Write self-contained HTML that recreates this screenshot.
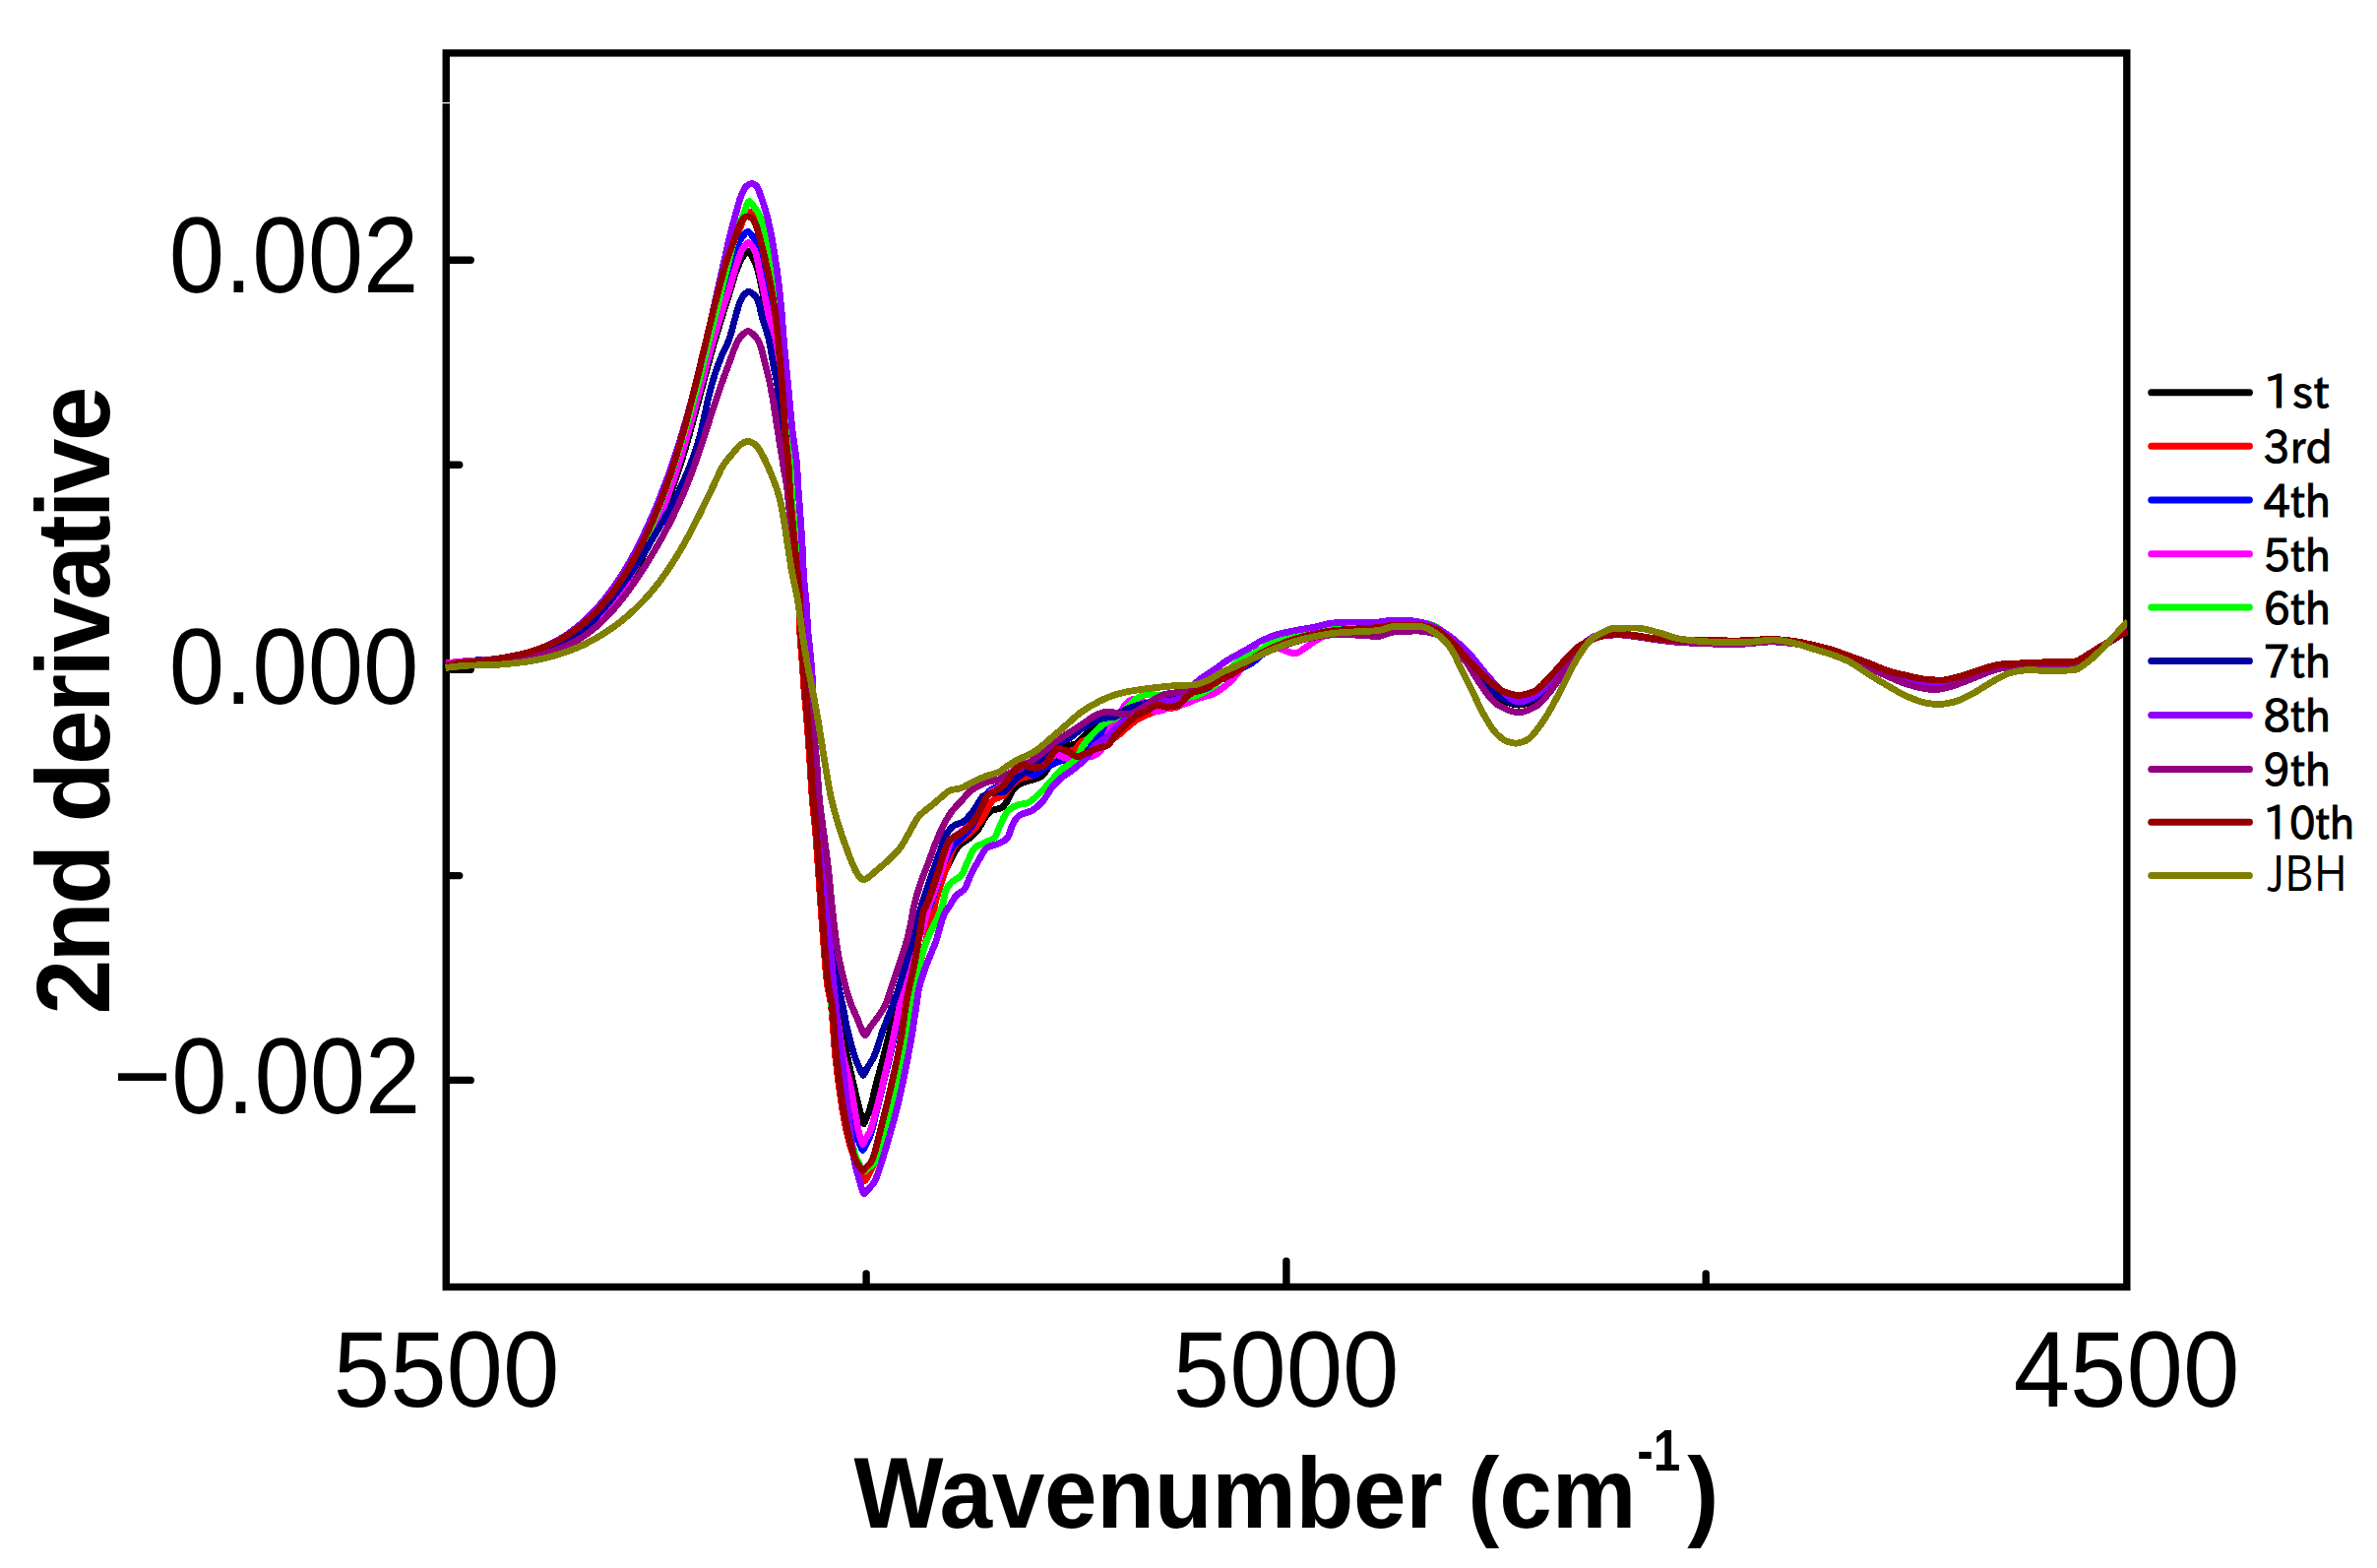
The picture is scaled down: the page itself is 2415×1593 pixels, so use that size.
<!DOCTYPE html>
<html lang="en"><head><meta charset="utf-8"><title>2nd derivative spectra</title>
<style>
html,body{margin:0;padding:0;background:#fff}
body{width:2415px;height:1593px;overflow:hidden}
svg{display:block}
.tick{font-family:"Liberation Sans",Arial,sans-serif;font-size:102.5px;fill:#000}
.ax{font-family:"Liberation Sans",Arial,sans-serif;font-weight:bold;font-size:102.5px;fill:#000}
.lg{font-family:"IPAPGothic","IPAGothic","Liberation Sans",sans-serif;font-size:46.6px;fill:#000}
</style></head><body>
<svg width="2415" height="1593" viewBox="0 0 2415 1593">
<rect width="2415" height="1593" fill="#fff"/>
<defs><clipPath id="cp"><rect x="452.2" y="57.6" width="1709.0" height="1246.4"/></clipPath></defs>
<g fill="none" stroke="#000" stroke-width="7.4" stroke-linecap="round">
<rect x="453.25" y="53.90" width="1707.55" height="1253.60" stroke-linejoin="miter"/>
<path d="M456.2 264.3 H478.2"/>
<path d="M456.2 472.2 H466.7"/>
<path d="M456.2 680.2 H478.2"/>
<path d="M456.2 889.6 H466.7"/>
<path d="M456.2 1097.4 H478.2"/>
<path d="M880.1 1304.5 V1294.0"/>
<path d="M1306.9 1304.5 V1281.1"/>
<path d="M1733.2 1304.5 V1294.0"/>
</g>
<g clip-path="url(#cp)" shape-rendering="crispEdges" fill="none" stroke-width="6.8" stroke-linejoin="round" stroke-linecap="butt">
<path stroke="#000000" d="M452.9 677.5C461.7 675.3 470.5 673.4 479.4 672.7C488.6 672.0 498.1 672.1 507.3 671.4C516.6 670.7 525.8 668.8 534.9 666.9C540.5 665.7 546.1 663.9 551.6 662.1C557.2 660.2 562.7 658.0 568.0 655.6C573.7 653.0 579.3 649.9 584.6 646.5C590.2 642.9 595.6 638.8 600.7 634.5C606.4 629.6 611.9 624.2 616.9 618.6C621.9 613.0 626.7 607.0 631.1 600.9C637.0 592.8 642.4 584.3 647.5 575.6C651.9 568.0 656.0 560.2 659.9 552.3C663.6 544.8 667.1 537.1 670.4 529.4C673.7 521.8 676.7 514.0 679.6 506.2C682.6 498.2 685.3 490.2 688.0 482.1C690.5 474.7 692.8 467.2 695.1 459.7C697.3 452.3 699.4 444.8 701.5 437.3C705.7 422.1 709.7 406.9 713.8 391.7C717.9 376.4 721.9 361.0 726.3 345.8C729.4 335.1 732.8 324.4 736.1 313.7C738.1 307.3 740.2 300.8 742.2 294.4C744.2 288.0 745.7 281.4 748.0 275.2C749.8 270.4 751.8 265.2 754.5 261.0C755.9 258.9 758.1 255.1 759.8 255.1C761.4 255.1 763.3 258.9 764.5 261.0C766.9 265.3 768.6 270.4 770.0 275.2C771.8 281.4 772.9 288.0 774.2 294.4C775.5 300.8 776.7 307.1 778.0 313.5C780.2 324.3 782.8 335.0 784.5 345.9C786.9 361.1 788.8 376.5 790.5 391.8C792.2 407.1 793.6 422.5 795.0 437.8C796.2 451.6 796.8 465.5 798.5 479.1C799.4 486.3 802.1 493.4 803.1 500.6C804.5 510.7 805.2 521.0 806.2 531.2C807.2 541.4 808.3 551.6 809.4 561.8C810.2 569.5 811.2 577.3 812.0 585.0C812.9 593.5 814.2 602.0 814.5 610.6C814.9 620.8 814.8 631.0 815.2 641.2C815.6 651.4 816.8 661.6 817.5 671.8C818.2 681.0 818.7 690.2 819.4 699.4C820.2 709.9 821.4 720.3 822.2 730.8C823.3 744.4 824.3 758.0 825.2 771.6C826.1 785.2 826.7 798.8 827.8 812.4C828.7 823.3 830.2 834.1 831.1 845.0C832.1 856.9 832.9 868.9 833.7 880.8C834.7 894.4 835.5 908.0 836.5 921.6C837.5 935.2 838.5 948.8 839.6 962.4C840.6 974.7 841.2 987.2 842.9 999.2C843.9 1006.3 847.2 1013.0 849.0 1020.0C851.3 1028.9 853.0 1037.9 855.0 1046.8C857.0 1055.7 858.9 1064.7 860.9 1073.6C862.9 1082.5 864.9 1091.5 866.9 1100.4C868.9 1109.3 871.0 1118.2 873.2 1127.1C874.0 1130.4 874.8 1133.8 875.8 1137.0C876.3 1138.7 877.0 1141.9 877.6 1141.9C878.2 1141.9 878.9 1138.6 879.6 1137.0C881.0 1133.7 882.6 1130.5 883.7 1127.1C886.5 1118.4 888.1 1109.3 890.4 1100.4C892.7 1091.4 895.4 1082.6 897.7 1073.6C900.0 1064.7 902.2 1055.7 904.4 1046.8C906.6 1037.9 908.6 1028.9 910.7 1020.0C914.5 1003.4 917.5 986.4 922.0 970.0C924.8 959.9 927.6 949.2 932.0 940.0C935.4 932.9 942.4 927.1 946.0 920.0C949.7 912.5 951.7 903.8 955.0 896.0C958.0 888.9 961.6 882.1 965.0 875.2C966.3 872.7 967.5 870.1 968.9 867.6C970.6 864.6 972.3 861.3 974.6 858.9C977.2 856.2 981.2 854.7 984.2 852.2C987.6 849.4 991.1 846.2 993.7 842.7C996.3 839.2 997.8 834.8 1000.4 831.2C1002.3 828.5 1004.5 824.9 1007.1 823.6C1009.9 822.2 1014.9 822.1 1017.6 820.7C1020.3 819.3 1022.4 815.1 1024.3 812.1C1026.2 809.1 1027.1 805.2 1029.1 802.5C1030.8 800.3 1033.3 798.1 1035.8 796.8C1038.9 795.1 1042.8 794.1 1046.3 793.0C1047.5 792.6 1048.8 792.3 1050.0 791.9C1052.6 791.0 1055.6 790.3 1057.7 789.0C1060.8 787.1 1062.9 782.8 1065.3 779.5C1068.4 775.2 1070.5 769.9 1073.9 766.1C1076.5 763.2 1080.0 760.0 1083.5 758.4C1086.4 757.1 1090.2 756.9 1093.0 755.6C1096.6 753.9 1099.4 749.7 1102.6 746.9C1104.8 745.0 1107.0 743.1 1109.3 741.2C1112.5 738.6 1115.4 735.2 1118.9 733.6C1121.8 732.3 1125.3 731.8 1128.4 730.7C1132.7 729.1 1136.7 726.8 1140.9 725.0C1145.6 723.0 1150.4 721.0 1155.2 719.2C1159.9 717.5 1164.7 715.8 1169.5 714.4C1174.3 713.0 1179.1 711.7 1183.9 710.6C1188.6 709.5 1193.5 708.8 1198.2 707.7C1203.0 706.6 1207.8 705.3 1212.6 703.9C1218.5 702.2 1225.5 701.1 1230.0 698.2C1231.7 697.1 1232.6 694.2 1234.3 692.8C1238.1 689.6 1244.0 688.2 1248.7 685.6C1253.6 682.8 1258.3 679.7 1263.0 676.5C1267.9 673.2 1272.4 669.0 1277.4 666.0C1283.4 662.4 1290.0 659.2 1296.5 656.4C1302.7 653.8 1309.1 651.4 1315.6 649.4C1321.9 647.5 1328.3 645.7 1334.8 644.4C1341.1 643.1 1347.5 641.8 1353.9 641.1C1360.2 640.4 1366.6 640.0 1373.0 639.6C1379.4 639.2 1385.8 639.1 1392.1 638.6C1400.1 638.0 1408.0 635.5 1416.0 635.5C1425.0 635.5 1434.2 635.5 1443.0 635.5C1448.3 635.5 1454.0 637.6 1458.6 639.5C1464.3 641.9 1469.3 647.8 1473.9 652.5C1481.0 659.7 1486.5 668.7 1493.0 676.6C1499.2 684.1 1505.3 691.8 1512.2 698.6C1517.0 703.3 1521.8 709.2 1527.5 711.8C1532.0 713.8 1537.7 716.2 1542.8 716.2C1547.9 716.2 1553.8 713.9 1558.1 711.8C1564.0 709.0 1568.7 701.8 1573.4 696.4C1578.9 690.2 1583.4 683.0 1588.7 676.6C1593.6 670.6 1598.3 664.0 1604.0 659.1C1608.7 655.0 1614.2 650.5 1620.0 648.5C1625.9 646.5 1632.7 644.3 1639.1 644.3C1645.4 644.3 1651.9 644.7 1658.3 645.2C1664.7 645.7 1671.0 647.4 1677.4 648.1C1684.9 648.9 1692.5 649.8 1700.0 650.0C1711.6 650.3 1723.2 650.3 1734.8 650.5C1744.4 650.7 1753.9 651.0 1763.5 651.0C1775.7 651.0 1787.8 649.5 1800.0 649.5C1806.7 649.5 1813.4 650.3 1820.0 651.0C1826.7 651.7 1833.4 653.4 1840.0 654.8C1846.4 656.2 1852.8 657.8 1859.1 659.6C1865.6 661.5 1871.9 663.9 1878.3 666.3C1885.3 668.9 1892.2 671.6 1899.1 674.5C1905.6 677.2 1911.7 680.8 1918.3 683.0C1924.5 685.1 1931.0 686.6 1937.4 688.2C1943.7 689.7 1950.1 691.8 1956.5 692.4C1961.5 692.9 1966.8 693.4 1971.8 693.4C1978.3 693.4 1984.7 690.9 1991.0 689.2C1998.8 687.1 2006.2 683.3 2013.9 680.9C2020.2 678.9 2026.6 676.2 2033.1 675.6C2039.4 675.0 2045.8 674.9 2052.2 674.5C2058.6 674.1 2064.9 673.2 2071.3 673.0C2077.7 672.8 2084.0 672.8 2090.4 672.6C2096.2 672.4 2102.3 672.4 2107.7 672.0C2111.7 671.7 2115.4 668.4 2119.1 666.3C2124.3 663.4 2129.2 659.8 2134.4 656.7C2138.8 654.1 2143.3 651.5 2147.8 649.0C2152.5 646.4 2157.2 643.9 2162.0 641.5"/>
<path stroke="#ff0000" d="M452.9 676.8C457.2 675.4 461.5 674.0 465.9 673.5C474.5 672.6 483.5 672.7 492.2 671.9C500.8 671.2 509.4 669.7 517.9 668.1C523.7 667.0 529.5 665.5 535.2 663.9C540.7 662.4 546.2 660.5 551.6 658.5C557.1 656.4 562.6 654.0 567.8 651.4C573.5 648.5 579.2 645.2 584.5 641.6C590.2 637.7 595.7 633.3 600.8 628.7C606.6 623.4 612.2 617.6 617.3 611.6C621.2 607.0 624.9 602.2 628.4 597.3C633.2 590.6 637.6 583.5 641.8 576.4C646.1 569.0 650.2 561.3 654.0 553.6C657.7 546.2 661.1 538.6 664.4 531.0C667.6 523.4 670.7 515.8 673.6 508.1C676.6 500.1 679.4 492.0 682.1 483.9C684.5 476.5 686.8 469.0 689.0 461.5C691.4 453.5 693.7 445.5 695.8 437.4C699.8 422.2 703.5 406.9 707.2 391.6C710.9 376.3 714.4 360.9 718.1 345.6C720.2 336.7 722.4 327.9 724.6 319.0C725.9 313.9 727.2 308.9 728.5 303.8C730.2 297.5 731.8 291.2 733.6 285.0C735.4 278.6 737.1 272.2 739.2 265.9C741.4 259.4 744.1 253.0 746.5 246.5C748.9 240.1 750.9 233.7 753.5 227.4C754.7 224.4 755.7 221.0 757.5 218.5C758.4 217.2 760.0 215.0 761.3 215.0C762.5 215.0 764.1 217.2 765.0 218.5C766.7 221.0 767.7 224.4 768.8 227.4C771.0 233.6 772.5 240.1 774.2 246.5C775.9 252.9 777.3 259.3 778.8 265.7C780.3 272.1 781.8 278.4 783.1 284.8C784.3 291.1 785.4 297.5 786.4 303.9C787.2 309.0 788.1 314.1 788.8 319.2C789.9 328.1 790.7 337.0 791.6 345.9C793.1 361.2 794.4 376.5 795.6 391.8C796.8 407.1 797.6 422.5 798.7 437.8C799.7 451.6 802.0 465.3 802.1 479.1C802.2 486.3 802.1 493.4 802.2 500.6C802.3 510.8 803.8 521.0 804.7 531.2C805.6 541.4 806.5 551.6 807.5 561.8C808.2 569.5 809.1 577.3 809.8 585.0C810.6 593.5 811.7 602.1 812.0 610.6C812.4 620.8 812.3 631.0 812.7 641.2C813.1 651.4 814.3 661.6 815.0 671.8C815.7 681.0 816.2 690.2 816.9 699.4C817.7 709.9 818.9 720.3 819.7 730.8C820.8 744.4 821.8 758.0 822.7 771.6C823.6 785.2 824.2 798.8 825.3 812.4C826.2 823.3 827.7 834.1 828.6 845.0C829.6 856.9 830.4 868.9 831.2 880.8C832.2 894.4 833.0 908.0 834.0 921.6C835.0 935.2 836.0 948.8 837.1 962.4C838.1 974.7 838.9 987.0 840.4 999.2C841.3 1006.2 843.4 1013.0 844.3 1020.0C846.5 1037.7 847.0 1055.8 848.8 1073.6C850.6 1091.5 853.0 1109.4 855.9 1127.1C857.4 1136.1 859.1 1145.1 861.2 1153.9C863.4 1162.9 866.0 1172.0 869.3 1180.7C871.0 1185.2 873.2 1189.7 875.5 1194.0C876.5 1195.9 877.7 1199.5 878.8 1199.5C879.9 1199.5 881.0 1195.9 882.0 1194.0C884.0 1190.4 886.0 1186.8 887.5 1183.0C890.5 1175.6 892.8 1167.7 895.0 1160.0C897.6 1150.8 899.9 1141.4 902.0 1132.0C904.4 1121.5 906.2 1110.9 908.5 1100.4C910.4 1091.5 912.7 1082.6 914.5 1073.6C916.3 1064.7 918.0 1055.8 919.5 1046.8C921.0 1037.9 921.8 1028.8 923.5 1020.0C925.8 1008.2 929.9 996.7 933.0 985.0C935.7 975.0 938.3 965.0 941.0 955.0C943.4 945.9 946.6 937.0 948.4 927.8C948.9 925.2 949.2 922.6 949.7 920.0C951.1 912.9 953.4 906.0 955.5 899.1C957.5 892.7 960.0 886.4 962.2 880.0C963.8 875.2 964.9 870.1 966.9 865.6C968.4 862.3 970.3 858.6 972.7 856.1C974.5 854.2 977.3 853.0 979.4 851.3C983.4 848.1 987.5 844.6 990.9 840.8C994.5 836.8 997.7 832.1 1000.4 827.4C1002.2 824.3 1003.3 820.7 1005.2 817.8C1006.5 815.8 1008.1 813.4 1010.0 812.1C1012.6 810.4 1017.0 810.0 1019.5 808.3C1022.2 806.5 1023.8 802.3 1026.2 799.6C1028.6 796.9 1031.0 793.5 1033.9 792.0C1036.6 790.6 1040.3 789.8 1043.5 789.1C1045.0 788.7 1046.8 788.6 1048.2 788.2C1052.5 786.9 1056.1 782.7 1059.6 779.5C1063.0 776.3 1065.4 771.5 1069.1 768.9C1071.8 767.0 1075.3 764.9 1078.7 764.2C1081.1 763.7 1083.8 763.7 1086.3 763.2C1088.3 762.8 1090.5 762.2 1092.1 761.3C1095.1 759.7 1096.7 753.9 1099.7 752.7C1102.3 751.7 1106.1 750.8 1109.3 750.8C1112.5 750.8 1115.7 753.6 1118.9 753.6C1122.0 753.6 1125.5 752.6 1128.4 751.7C1131.1 750.8 1133.7 748.7 1136.1 746.9C1139.4 744.5 1142.4 741.4 1145.6 738.8C1148.8 736.2 1151.8 733.3 1155.2 731.2C1158.2 729.3 1161.5 727.8 1164.8 726.4C1167.3 725.3 1169.8 724.4 1172.4 723.5C1176.2 722.2 1180.0 721.0 1183.9 720.2C1188.0 719.4 1192.7 719.3 1196.3 718.3C1199.9 717.3 1202.6 712.9 1205.9 710.6C1208.6 708.7 1211.5 706.8 1214.5 705.3C1219.4 702.8 1226.5 702.1 1230.0 699.1C1231.8 697.6 1232.5 693.6 1234.3 691.8C1237.7 688.4 1244.0 686.9 1248.7 684.2C1253.5 681.5 1258.4 678.7 1263.0 675.6C1268.0 672.3 1272.4 668.2 1277.4 665.0C1283.5 661.1 1290.0 657.6 1296.5 654.5C1301.2 652.2 1306.0 649.8 1310.9 648.3C1315.5 646.9 1320.4 645.9 1325.2 645.0C1331.5 643.8 1337.9 642.7 1344.3 641.9C1350.7 641.1 1357.1 640.5 1363.5 640.0C1371.5 639.4 1379.5 639.1 1387.4 638.4C1397.0 637.5 1406.4 634.5 1416.0 634.5C1425.0 634.5 1434.2 634.5 1443.0 634.5C1448.3 634.5 1454.0 636.6 1458.6 638.5C1464.3 640.9 1469.2 646.9 1473.9 651.5C1480.8 658.2 1486.5 666.3 1493.0 673.5C1499.2 680.3 1505.4 687.4 1512.2 693.6C1517.0 697.9 1521.8 703.4 1527.5 705.7C1532.1 707.6 1537.7 709.7 1542.8 709.7C1547.9 709.7 1553.7 707.6 1558.1 705.7C1563.9 703.2 1568.6 696.6 1573.4 691.6C1578.8 685.9 1583.4 679.4 1588.7 673.5C1593.6 668.0 1598.3 661.8 1604.0 657.5C1608.7 653.9 1614.4 650.3 1620.0 648.5C1626.0 646.5 1632.7 644.3 1639.1 644.3C1645.4 644.3 1651.9 644.7 1658.3 645.2C1664.7 645.7 1671.0 647.4 1677.4 648.1C1684.9 648.9 1692.5 649.8 1700.0 650.0C1711.6 650.3 1723.2 650.3 1734.8 650.5C1744.4 650.7 1753.9 651.0 1763.5 651.0C1775.7 651.0 1787.8 649.5 1800.0 649.5C1806.7 649.5 1813.4 650.3 1820.0 651.0C1826.7 651.7 1833.4 653.4 1840.0 654.8C1846.4 656.2 1852.8 657.8 1859.1 659.6C1865.6 661.5 1871.9 664.0 1878.3 666.3C1885.3 668.8 1892.2 671.3 1899.1 673.9C1905.5 676.4 1911.8 679.6 1918.3 681.6C1924.5 683.5 1931.0 685.0 1937.4 686.4C1943.7 687.8 1950.1 689.6 1956.5 690.2C1961.6 690.7 1966.7 691.1 1971.8 691.1C1978.3 691.1 1984.7 688.9 1991.0 687.3C1998.8 685.4 2006.2 681.9 2013.9 679.7C2020.2 677.9 2026.6 675.5 2033.1 674.9C2039.4 674.4 2045.8 674.2 2052.2 673.9C2058.6 673.6 2064.9 673.2 2071.3 673.0C2077.7 672.8 2084.0 672.8 2090.4 672.6C2096.2 672.4 2102.3 672.4 2107.7 672.0C2111.7 671.7 2115.4 668.4 2119.1 666.3C2124.3 663.4 2129.2 659.8 2134.4 656.7C2138.8 654.1 2143.3 651.5 2147.8 649.0C2152.5 646.4 2157.2 643.9 2162.0 641.5"/>
<path stroke="#0000ff" d="M452.9 675.5C461.6 673.5 470.3 671.7 479.1 671.1C488.5 670.5 498.0 670.5 507.4 669.9C516.7 669.3 526.1 667.1 535.2 665.1C540.8 663.8 546.4 662.0 551.9 660.1C557.4 658.2 562.9 655.9 568.2 653.4C573.9 650.7 579.5 647.5 584.8 644.0C590.4 640.3 595.9 636.1 600.9 631.7C606.6 626.7 612.1 621.0 617.1 615.2C621.4 610.3 625.4 605.0 629.2 599.6C634.6 591.8 639.6 583.7 644.3 575.4C648.5 567.9 652.5 560.1 656.2 552.3C659.8 544.8 663.1 537.1 666.2 529.4C669.3 521.8 672.2 514.1 675.0 506.3C677.9 498.3 680.5 490.1 683.1 482.0C685.5 474.6 687.7 467.1 689.9 459.6C692.0 452.3 694.1 444.9 696.1 437.6C700.3 422.4 704.0 407.0 708.1 391.8C712.2 376.4 716.3 361.0 720.7 345.7C723.8 334.9 727.0 324.1 730.5 313.4C732.5 307.1 735.2 301.0 737.0 294.7C739.1 287.2 740.5 279.5 742.5 272.0C744.3 265.1 745.8 257.9 748.4 251.3C749.9 247.4 751.9 243.1 754.5 240.0C755.9 238.3 758.1 235.5 759.8 235.5C761.4 235.5 763.4 238.3 764.5 240.0C766.6 243.2 767.8 247.5 769.0 251.3C771.1 258.0 772.4 265.1 774.0 272.0C775.7 279.5 777.4 286.9 779.0 294.4C780.4 300.8 781.8 307.1 783.0 313.5C784.9 324.2 786.6 335.1 788.0 345.9C790.0 361.2 791.5 376.5 793.0 391.8C794.5 407.1 795.7 422.5 797.0 437.8C798.2 451.6 799.1 465.4 800.5 479.1C801.2 486.3 802.4 493.4 803.2 500.6C804.3 510.8 805.0 521.0 805.9 531.2C806.8 541.4 807.9 551.6 808.9 561.8C809.7 569.5 810.6 577.3 811.4 585.0C812.2 593.5 813.4 602.1 813.7 610.6C814.1 620.8 814.0 631.0 814.4 641.2C814.8 651.4 816.0 661.6 816.7 671.8C817.4 681.0 817.9 690.2 818.6 699.4C819.4 709.9 820.6 720.3 821.4 730.8C822.5 744.4 823.5 758.0 824.4 771.6C825.3 785.2 825.9 798.8 827.0 812.4C827.9 823.3 829.4 834.1 830.3 845.0C831.3 856.9 832.1 868.9 832.9 880.8C833.9 894.4 834.7 908.0 835.7 921.6C836.7 935.2 837.7 948.8 838.8 962.4C839.8 974.7 840.7 987.0 842.1 999.2C843.8 1014.5 846.8 1029.7 849.0 1045.0C851.4 1061.7 853.2 1078.4 856.0 1095.0C858.0 1106.7 860.2 1118.5 863.0 1130.0C864.8 1137.4 867.0 1144.8 869.5 1152.0C871.0 1156.2 872.7 1160.4 874.5 1164.5C875.1 1165.9 875.9 1168.7 876.6 1168.7C877.3 1168.7 878.1 1165.9 878.8 1164.5C880.6 1161.0 882.7 1157.5 884.0 1153.9C887.1 1145.3 888.7 1136.1 891.0 1127.1C893.2 1118.2 895.3 1109.3 897.5 1100.4C899.7 1091.5 901.9 1082.6 904.0 1073.6C906.1 1064.7 908.2 1055.8 910.0 1046.8C912.3 1035.3 913.6 1023.5 916.0 1012.0C919.1 997.2 923.8 982.7 927.5 968.0C929.9 958.7 931.4 948.9 934.5 940.0C936.9 933.0 942.2 926.9 945.0 920.0C947.8 913.2 949.7 906.0 952.0 899.0C954.0 892.7 955.7 886.2 958.0 880.0C959.7 875.3 961.6 870.4 964.0 866.0C965.4 863.5 967.1 861.1 968.9 858.9C971.6 855.7 975.1 853.1 978.0 850.0C981.5 846.2 985.2 842.3 988.0 838.0C991.2 833.1 993.5 827.4 996.0 822.0C997.8 818.1 999.0 813.8 1001.0 810.0C1002.2 807.7 1003.5 805.0 1005.2 803.5C1007.4 801.5 1011.2 800.7 1014.0 799.0C1016.8 797.3 1019.5 795.2 1022.0 793.0C1024.8 790.6 1027.0 787.1 1030.0 785.0C1032.9 783.0 1036.9 780.0 1040.0 780.0C1043.6 780.0 1046.6 788.1 1050.0 788.1C1053.1 788.1 1056.3 783.4 1059.6 781.4C1062.6 779.6 1065.9 778.0 1069.1 776.6C1072.2 775.2 1075.4 773.1 1078.7 772.8C1081.8 772.5 1085.2 772.6 1088.3 772.3C1091.6 772.0 1095.1 770.4 1097.8 768.9C1101.5 766.9 1104.4 762.7 1107.4 759.4C1110.1 756.4 1112.4 752.9 1115.0 749.8C1117.5 746.9 1119.8 743.5 1122.7 741.2C1125.2 739.3 1128.5 738.1 1131.3 736.4C1134.6 734.4 1137.7 731.9 1140.9 729.7C1144.1 727.5 1147.1 724.9 1150.4 723.0C1153.5 721.2 1156.7 719.1 1160.0 718.3C1164.5 717.3 1169.5 716.3 1174.3 716.3C1179.1 716.3 1183.9 717.3 1188.7 717.3C1191.9 717.3 1195.1 717.1 1198.2 716.8C1201.5 716.5 1204.8 714.8 1207.8 713.5C1211.2 712.0 1214.1 709.4 1217.4 707.7C1221.5 705.6 1227.2 704.7 1230.0 702.0C1231.8 700.3 1232.5 696.0 1234.3 694.2C1237.6 690.9 1244.0 689.6 1248.7 687.0C1253.6 684.3 1258.2 681.1 1263.0 678.4C1266.2 676.6 1269.6 675.2 1272.6 673.2C1276.0 670.9 1278.8 667.4 1282.2 665.0C1286.7 661.8 1291.5 658.9 1296.5 656.6C1302.6 653.8 1309.2 651.7 1315.6 649.7C1321.9 647.7 1328.3 645.9 1334.8 644.5C1341.1 643.1 1347.5 641.9 1353.9 641.1C1360.2 640.3 1366.6 639.8 1373.0 639.4C1379.4 639.0 1385.8 639.0 1392.1 638.5C1400.1 637.9 1408.0 634.0 1416.0 634.0C1424.9 634.0 1434.2 634.0 1443.0 634.0C1448.3 634.0 1454.1 636.1 1458.6 638.0C1464.4 640.4 1469.1 646.9 1473.9 651.8C1480.7 658.8 1486.4 667.1 1493.0 674.5C1499.2 681.5 1505.4 688.8 1512.2 695.1C1517.0 699.5 1521.8 705.1 1527.5 707.5C1532.1 709.4 1537.7 711.6 1542.8 711.6C1547.9 711.6 1553.7 709.4 1558.1 707.5C1564.0 704.9 1568.6 698.2 1573.4 693.1C1578.9 687.3 1583.4 680.5 1588.7 674.5C1593.6 668.9 1598.3 662.5 1604.0 658.0C1608.7 654.3 1614.3 650.4 1620.0 648.5C1626.0 646.5 1632.7 644.3 1639.1 644.3C1645.4 644.3 1651.9 644.7 1658.3 645.2C1664.7 645.7 1671.0 647.4 1677.4 648.1C1684.9 648.9 1692.5 649.8 1700.0 650.0C1711.6 650.3 1723.2 650.3 1734.8 650.5C1744.4 650.7 1753.9 651.0 1763.5 651.0C1775.7 651.0 1787.8 649.5 1800.0 649.5C1806.7 649.5 1813.4 650.3 1820.0 651.0C1826.7 651.7 1833.4 653.4 1840.0 654.8C1846.4 656.2 1852.8 657.8 1859.1 659.6C1865.6 661.5 1871.9 664.0 1878.3 666.3C1885.3 668.9 1892.2 671.6 1899.1 674.4C1905.5 677.0 1911.7 680.5 1918.3 682.7C1924.5 684.8 1931.0 686.4 1937.4 687.9C1943.7 689.4 1950.1 691.4 1956.5 692.0C1961.5 692.5 1966.8 692.9 1971.8 692.9C1978.3 692.9 1984.7 690.5 1991.0 688.8C1998.8 686.7 2006.2 683.0 2013.9 680.6C2020.2 678.7 2026.6 676.1 2033.1 675.5C2039.4 674.9 2045.8 674.8 2052.2 674.4C2058.6 674.0 2064.9 673.2 2071.3 673.0C2077.7 672.8 2084.0 672.8 2090.4 672.6C2096.2 672.4 2102.3 672.4 2107.7 672.0C2111.7 671.7 2115.4 668.4 2119.1 666.3C2124.3 663.4 2129.2 659.8 2134.4 656.7C2138.8 654.1 2143.3 651.5 2147.8 649.0C2152.5 646.4 2157.2 643.9 2162.0 641.5"/>
<path stroke="#ff00ff" d="M452.9 674.0C461.6 672.7 470.4 671.6 479.2 671.2C488.6 670.8 498.1 670.9 507.4 670.4C516.7 670.0 525.9 667.8 535.0 665.9C540.6 664.7 546.2 662.9 551.7 661.1C557.3 659.2 562.8 656.9 568.1 654.4C573.7 651.7 579.3 648.7 584.5 645.3C590.1 641.7 595.6 637.5 600.7 633.1C606.4 628.2 611.7 622.8 616.7 617.2C621.3 612.1 625.7 606.6 629.7 601.0C635.5 592.9 640.8 584.4 645.8 575.8C650.2 568.2 654.3 560.3 658.2 552.3C661.9 544.7 665.3 537.0 668.6 529.2C671.8 521.5 674.9 513.8 677.8 506.0C680.8 498.0 683.5 490.0 686.2 481.9C688.6 474.5 690.9 467.1 693.2 459.6C695.4 452.2 697.6 444.8 699.7 437.4C704.0 422.3 708.0 407.1 712.1 392.0C716.3 376.6 720.3 361.2 724.7 345.9C727.8 335.0 731.1 324.2 734.5 313.4C736.5 307.1 738.8 300.8 740.8 294.5C742.8 288.1 744.4 281.6 746.4 275.2C748.4 268.8 750.2 262.1 752.9 256.1C753.9 253.8 755.2 251.4 756.8 249.5C757.8 248.4 759.2 246.5 760.3 246.5C761.4 246.5 762.6 248.4 763.5 249.5C765.1 251.4 766.7 253.8 767.5 256.1C769.6 262.0 770.2 268.8 771.6 275.2C773.0 281.6 774.4 288.0 775.7 294.4C777.0 300.8 778.2 307.1 779.5 313.5C781.7 324.3 784.3 335.0 786.0 345.9C788.4 361.1 790.3 376.5 792.0 391.8C793.7 407.1 795.1 422.5 796.5 437.8C797.7 451.6 798.5 465.4 800.0 479.1C800.8 486.3 802.4 493.4 803.2 500.6C804.4 510.8 805.1 521.0 806.1 531.2C807.1 541.4 808.1 551.6 809.2 561.8C810.0 569.5 810.9 577.3 811.7 585.0C812.6 593.5 813.8 602.0 814.1 610.6C814.5 620.8 814.4 631.0 814.8 641.2C815.2 651.4 816.4 661.6 817.1 671.8C817.8 681.0 818.3 690.2 819.0 699.4C819.8 709.9 821.0 720.3 821.8 730.8C822.9 744.4 823.9 758.0 824.8 771.6C825.7 785.2 826.3 798.8 827.4 812.4C828.3 823.3 829.8 834.1 830.7 845.0C831.7 856.9 832.5 868.9 833.3 880.8C834.3 894.4 835.1 908.0 836.1 921.6C837.1 935.2 838.1 948.8 839.2 962.4C840.2 974.7 840.9 987.1 842.5 999.2C843.9 1009.6 848.0 1019.7 850.0 1030.0C852.8 1044.4 854.1 1059.2 857.0 1073.6C858.8 1082.6 861.8 1091.4 863.6 1100.4C865.4 1109.2 866.7 1118.2 868.3 1127.1C869.7 1134.7 870.7 1142.5 872.5 1150.0C873.2 1152.9 874.0 1155.7 875.0 1158.5C875.5 1159.9 876.0 1162.6 876.6 1162.6C877.2 1162.6 877.8 1159.8 878.5 1158.5C880.0 1155.5 882.4 1152.9 883.7 1149.9C886.7 1142.8 888.3 1134.7 890.4 1127.1C892.8 1118.3 894.9 1109.3 897.0 1100.4C899.1 1091.5 901.3 1082.6 903.3 1073.6C905.3 1064.7 907.2 1055.7 909.1 1046.8C911.0 1037.9 912.6 1028.9 914.5 1020.0C916.8 1009.2 918.9 998.4 921.6 987.8C923.8 979.1 926.0 970.3 929.0 962.0C931.1 956.2 934.8 950.8 936.9 945.0C939.8 936.9 941.3 928.2 944.0 920.0C946.0 913.9 948.6 908.0 950.7 902.0C952.7 896.3 954.6 890.6 956.4 884.8C958.4 878.4 960.1 872.0 962.2 865.6C963.7 861.1 964.6 855.7 966.9 852.2C968.6 849.5 972.8 847.9 975.6 845.6C978.5 843.3 981.6 841.0 984.2 838.4C987.0 835.5 989.6 832.2 991.8 828.8C994.0 825.5 995.7 821.8 997.6 818.3C999.6 814.5 1000.8 809.6 1003.3 806.8C1005.5 804.4 1009.8 803.2 1012.9 801.1C1015.5 799.3 1018.4 797.5 1020.5 795.3C1023.1 792.6 1024.7 788.7 1027.2 785.8C1029.2 783.4 1031.4 780.8 1033.9 779.1C1035.9 777.7 1038.3 775.7 1040.6 775.7C1043.1 775.7 1045.6 778.6 1048.2 778.6C1051.9 778.6 1056.6 778.2 1059.6 777.6C1062.7 777.0 1064.1 770.4 1067.2 768.9C1069.0 768.0 1071.7 767.0 1073.9 767.0C1076.5 767.0 1079.0 769.4 1081.6 769.9C1084.4 770.4 1087.3 770.9 1090.2 770.9C1095.9 770.9 1102.0 770.0 1107.4 768.9C1110.7 768.2 1114.8 766.3 1116.9 764.2C1119.9 761.3 1121.6 755.3 1123.6 750.8C1125.7 746.1 1127.0 740.8 1129.4 736.4C1131.1 733.3 1134.0 730.7 1136.1 727.8C1139.4 723.2 1141.5 716.7 1145.6 713.5C1147.1 712.3 1149.4 710.6 1151.4 710.6C1155.0 710.6 1159.6 711.8 1162.9 713.0C1167.2 714.5 1169.9 723.0 1174.3 723.0C1175.7 723.0 1177.5 722.5 1179.1 722.1C1182.4 721.3 1185.5 719.6 1188.7 718.7C1193.4 717.4 1198.3 716.8 1203.0 715.4C1207.9 714.0 1212.5 711.2 1217.4 709.6C1220.5 708.5 1223.7 707.6 1226.9 706.8C1227.8 706.6 1228.7 706.5 1229.6 706.2C1234.8 704.7 1239.5 700.9 1243.9 697.6C1247.3 695.1 1250.6 692.0 1253.5 688.9C1257.0 685.1 1259.8 680.6 1263.0 676.5C1265.8 673.0 1268.4 669.0 1271.6 666.0C1273.9 663.9 1276.5 661.5 1279.3 660.3C1282.2 659.0 1285.6 657.4 1288.9 657.4C1292.0 657.4 1295.3 657.8 1298.4 658.3C1301.0 658.7 1303.5 660.4 1306.1 661.2C1309.2 662.2 1312.6 663.9 1315.6 663.9C1318.9 663.9 1322.1 660.7 1325.2 658.8C1328.5 656.8 1331.5 654.2 1334.8 652.1C1337.9 650.2 1341.0 648.2 1344.3 646.7C1347.4 645.3 1350.6 643.9 1353.9 643.2C1358.5 642.2 1363.4 641.7 1368.2 641.1C1373.0 640.5 1377.8 640.2 1382.6 639.7C1393.8 638.5 1404.8 635.5 1416.0 635.5C1425.0 635.5 1434.2 635.5 1443.0 635.5C1448.3 635.5 1453.9 637.6 1458.6 639.5C1464.3 641.8 1469.2 647.2 1473.9 651.6C1480.9 658.2 1486.4 666.6 1493.0 673.9C1499.2 680.8 1505.4 687.9 1512.2 694.1C1517.0 698.5 1521.8 704.0 1527.5 706.3C1532.1 708.2 1537.7 710.3 1542.8 710.3C1547.9 710.3 1553.7 708.2 1558.1 706.3C1563.9 703.8 1568.6 697.1 1573.4 692.1C1578.8 686.4 1583.4 679.8 1588.7 673.9C1593.6 668.3 1598.3 662.0 1604.0 657.6C1608.7 654.0 1614.4 650.3 1620.0 648.5C1626.0 646.5 1632.7 644.3 1639.1 644.3C1645.4 644.3 1651.9 644.7 1658.3 645.2C1664.7 645.7 1671.0 647.4 1677.4 648.1C1684.9 648.9 1692.5 649.8 1700.0 650.0C1711.6 650.3 1723.2 650.3 1734.8 650.5C1744.4 650.7 1753.9 651.0 1763.5 651.0C1775.7 651.0 1787.8 649.5 1800.0 649.5C1806.7 649.5 1813.4 650.3 1820.0 651.0C1826.7 651.7 1833.4 653.4 1840.0 654.8C1846.4 656.2 1852.8 657.8 1859.1 659.6C1865.6 661.5 1872.0 663.9 1878.3 666.3C1885.3 668.9 1892.2 671.7 1899.1 674.6C1905.6 677.3 1911.7 680.9 1918.3 683.2C1924.5 685.4 1931.0 687.0 1937.4 688.6C1943.7 690.2 1950.1 692.3 1956.5 692.9C1961.5 693.4 1966.8 693.9 1971.8 693.9C1978.3 693.9 1984.7 691.3 1991.0 689.6C1998.8 687.4 2006.2 683.6 2013.9 681.1C2020.2 679.1 2026.6 676.3 2033.1 675.7C2039.4 675.1 2045.8 675.0 2052.2 674.6C2058.6 674.2 2064.9 673.2 2071.3 673.0C2077.7 672.8 2084.0 672.8 2090.4 672.6C2096.2 672.4 2102.3 672.4 2107.7 672.0C2111.7 671.7 2115.4 668.4 2119.1 666.3C2124.3 663.4 2129.2 659.8 2134.4 656.7C2138.8 654.1 2143.3 651.5 2147.8 649.0C2152.5 646.4 2157.2 643.9 2162.0 641.5"/>
<path stroke="#00ff00" d="M452.9 677.0C461.5 674.7 470.2 672.7 479.0 672.0C488.4 671.3 498.0 671.3 507.3 670.6C516.7 669.9 526.1 667.4 535.2 665.1C540.8 663.7 546.4 661.7 551.9 659.6C557.5 657.5 563.0 655.0 568.3 652.3C574.1 649.4 579.7 646.1 585.1 642.5C590.7 638.7 596.2 634.5 601.2 630.0C606.9 624.9 612.4 619.2 617.4 613.3C621.6 608.3 625.5 603.0 629.2 597.6C634.1 590.4 638.5 582.9 642.7 575.3C646.8 567.8 650.5 560.1 654.1 552.4C657.6 544.9 660.8 537.3 663.9 529.6C667.0 521.9 670.0 514.1 672.9 506.3C675.9 498.3 678.8 490.2 681.6 482.1C684.2 474.7 686.6 467.2 689.0 459.7C691.4 452.3 693.6 444.8 695.8 437.3C700.2 422.2 704.5 407.0 708.6 391.8C712.7 376.5 716.5 361.2 720.4 345.8C722.6 336.9 724.8 328.0 727.0 319.1C729.1 310.8 731.1 302.4 733.2 294.1C735.2 286.1 737.2 278.1 739.2 270.1C740.9 263.4 742.5 256.6 744.4 249.9C746.1 243.9 748.0 237.9 750.0 232.0C751.8 226.6 754.1 221.4 756.0 216.0C757.0 213.3 757.6 210.5 758.8 208.0C759.4 206.7 760.4 204.4 761.3 204.4C762.3 204.4 763.5 206.7 764.5 208.0C766.9 211.1 769.6 214.3 771.2 217.8C773.9 223.7 775.5 230.5 777.1 237.0C778.6 243.3 779.9 249.7 781.0 256.1C782.1 262.4 783.0 268.8 783.9 275.2C784.8 281.6 785.7 288.0 786.6 294.4C787.5 300.8 788.6 307.1 789.5 313.5C791.1 324.3 792.8 335.1 793.9 345.9C795.4 361.1 796.4 376.5 797.4 391.8C798.4 407.1 799.1 422.5 800.2 437.8C801.2 451.6 803.0 465.3 803.6 479.1C803.9 486.3 804.0 493.4 804.3 500.6C804.8 510.8 805.9 521.0 806.8 531.2C807.7 541.4 808.6 551.6 809.5 561.8C810.2 569.5 811.0 577.3 811.7 585.0C812.5 593.5 813.6 602.1 813.9 610.6C814.3 620.8 814.2 631.0 814.6 641.2C815.0 651.4 816.2 661.6 816.9 671.8C817.6 681.0 818.1 690.2 818.8 699.4C819.6 709.9 820.8 720.3 821.6 730.8C822.7 744.4 823.7 758.0 824.6 771.6C825.5 785.2 826.1 798.8 827.2 812.4C828.1 823.3 829.6 834.1 830.5 845.0C831.5 856.9 832.3 868.9 833.1 880.8C834.1 894.4 834.9 908.0 835.9 921.6C836.9 935.2 837.9 948.8 839.0 962.4C840.0 974.7 841.0 987.0 842.3 999.2C844.8 1024.0 848.3 1048.8 851.5 1073.6C853.8 1091.4 855.6 1109.4 858.5 1127.1C859.9 1136.1 861.7 1145.1 863.8 1153.9C866.0 1162.9 868.1 1172.4 871.8 1180.7C872.8 1183.1 874.4 1185.4 876.0 1187.5C876.7 1188.4 877.5 1190.0 878.3 1190.0C879.2 1190.0 880.1 1188.3 881.0 1187.5C883.6 1185.2 887.2 1183.3 889.0 1180.7C893.9 1173.6 896.3 1163.0 899.1 1153.9C901.8 1145.1 903.8 1136.0 906.0 1127.1C908.2 1118.2 910.6 1109.4 912.5 1100.4C914.4 1091.5 916.0 1082.6 917.5 1073.6C919.0 1064.7 920.4 1055.7 921.8 1046.8C923.2 1037.9 924.2 1028.9 925.8 1020.0C926.8 1014.3 928.2 1008.7 929.5 1003.0C932.3 990.6 934.4 978.1 938.0 966.0C939.6 960.6 941.8 955.2 944.0 950.0C946.8 943.2 950.6 936.8 953.5 930.0C954.9 926.7 956.4 923.4 957.4 920.0C959.0 914.8 959.3 908.7 961.2 903.9C962.3 901.1 964.7 898.3 966.9 896.2C969.6 893.6 974.3 892.2 976.5 889.5C979.5 885.8 980.8 879.9 983.2 875.2C985.6 870.4 987.5 864.1 990.9 860.9C993.1 858.8 997.2 857.7 1000.4 856.1C1003.6 854.5 1007.9 853.4 1010.0 851.3C1013.1 848.2 1014.3 841.6 1016.7 836.9C1019.0 832.4 1021.0 826.9 1024.3 823.6C1026.7 821.2 1030.5 818.8 1033.9 817.8C1036.9 816.9 1040.7 816.8 1043.5 815.9C1049.6 813.9 1054.6 807.2 1059.6 802.4C1063.0 799.1 1065.9 795.4 1069.1 791.9C1072.3 788.4 1075.1 784.3 1078.7 781.4C1081.5 779.1 1085.3 777.7 1088.3 775.6C1090.3 774.2 1092.6 772.7 1094.0 770.9C1096.5 767.5 1097.4 762.2 1099.7 758.4C1101.7 755.0 1104.7 751.9 1107.4 748.9C1110.4 745.6 1113.5 742.2 1116.9 739.3C1119.3 737.2 1121.9 735.2 1124.6 733.6C1128.2 731.4 1132.7 730.2 1136.1 727.8C1139.6 725.3 1142.4 721.4 1145.6 718.3C1148.7 715.3 1151.7 711.9 1155.2 709.6C1157.5 708.1 1160.2 705.8 1162.9 705.8C1165.9 705.8 1169.3 705.8 1172.4 705.8C1176.3 705.8 1180.0 707.3 1183.9 707.7C1188.6 708.2 1193.4 708.7 1198.2 708.7C1203.0 708.7 1208.0 708.3 1212.6 707.7C1215.9 707.3 1219.1 705.4 1222.1 703.9C1224.8 702.6 1227.3 700.7 1230.0 699.1C1231.4 698.3 1233.0 697.6 1234.3 696.6C1238.0 693.8 1240.7 689.6 1243.9 686.1C1247.1 682.6 1249.9 678.5 1253.5 675.6C1257.7 672.2 1263.0 669.6 1267.8 666.9C1272.5 664.2 1277.6 662.1 1282.2 659.3C1285.5 657.3 1288.3 654.4 1291.7 652.6C1296.2 650.3 1301.2 648.0 1306.1 646.9C1312.3 645.5 1318.9 645.1 1325.2 644.0C1331.6 642.9 1337.9 641.3 1344.3 640.2C1350.7 639.1 1357.1 637.6 1363.5 637.3C1369.8 637.0 1376.3 637.1 1382.6 636.8C1393.8 636.3 1404.8 632.5 1416.0 632.5C1425.0 632.5 1434.2 632.5 1443.0 632.5C1448.3 632.5 1454.2 634.6 1458.6 636.5C1464.6 639.1 1469.0 646.6 1473.9 652.0C1480.6 659.4 1486.4 667.6 1493.0 675.1C1499.2 682.3 1505.4 689.6 1512.2 696.1C1517.0 700.6 1521.8 706.4 1527.5 708.8C1532.0 710.7 1537.7 712.9 1542.8 712.9C1547.9 712.9 1553.7 710.7 1558.1 708.8C1564.0 706.2 1568.6 699.2 1573.4 694.0C1578.8 688.1 1583.4 681.2 1588.7 675.1C1593.6 669.4 1598.3 662.9 1604.0 658.3C1608.7 654.5 1614.3 650.4 1620.0 648.5C1625.9 646.5 1632.7 644.3 1639.1 644.3C1645.4 644.3 1651.9 644.7 1658.3 645.2C1664.7 645.7 1671.0 647.4 1677.4 648.1C1684.9 648.9 1692.5 649.8 1700.0 650.0C1711.6 650.3 1723.2 650.3 1734.8 650.5C1744.4 650.7 1753.9 651.0 1763.5 651.0C1775.7 651.0 1787.8 649.5 1800.0 649.5C1806.7 649.5 1813.4 650.3 1820.0 651.0C1826.7 651.7 1833.4 653.4 1840.0 654.8C1846.4 656.2 1852.8 657.8 1859.1 659.6C1865.6 661.5 1871.9 664.0 1878.3 666.3C1885.3 668.8 1892.2 671.4 1899.1 674.2C1905.5 676.8 1911.7 680.2 1918.3 682.3C1924.5 684.3 1931.0 685.8 1937.4 687.3C1943.7 688.8 1950.1 690.7 1956.5 691.3C1961.6 691.8 1966.7 692.3 1971.8 692.3C1978.3 692.3 1984.7 689.9 1991.0 688.3C1998.8 686.3 2006.2 682.6 2013.9 680.3C2020.2 678.4 2026.6 675.8 2033.1 675.2C2039.4 674.6 2045.8 674.6 2052.2 674.2C2058.6 673.8 2064.9 673.2 2071.3 673.0C2077.7 672.8 2084.0 672.8 2090.4 672.6C2096.2 672.4 2102.3 672.4 2107.7 672.0C2111.7 671.7 2115.4 668.4 2119.1 666.3C2124.3 663.4 2129.2 659.8 2134.4 656.7C2138.8 654.1 2143.3 651.5 2147.8 649.0C2152.5 646.4 2157.2 643.9 2162.0 641.5"/>
<path stroke="#0000a0" d="M452.9 677.0C462.0 676.6 471.0 675.6 480.0 674.6C488.9 673.6 497.7 671.6 506.5 670.1C515.9 668.5 525.3 666.7 534.8 665.4C540.5 664.6 546.4 664.3 551.9 663.3C557.4 662.3 563.0 659.9 568.1 657.5C573.4 655.0 578.4 651.4 583.1 647.9C589.8 642.8 595.9 636.6 601.9 630.6C606.6 625.9 611.0 620.9 615.3 615.9C619.3 611.3 623.1 606.5 626.8 601.6C630.5 596.8 634.0 591.9 637.5 586.9C641.1 581.8 644.5 576.7 647.9 571.5C651.1 566.6 654.2 561.6 657.3 556.6C660.2 551.9 663.0 547.2 665.8 542.5C667.7 539.4 669.5 536.2 671.3 533.1C672.4 531.1 673.6 529.1 674.7 527.1C677.5 522.0 680.4 516.9 683.1 511.7C686.0 506.2 688.8 500.8 691.4 495.2C693.8 490.2 696.1 485.2 698.2 480.1C702.2 470.3 706.1 460.4 709.0 450.3C711.8 440.6 713.9 430.5 716.2 420.6C717.7 414.0 718.9 407.4 720.5 400.9C722.1 394.4 723.9 387.8 725.9 381.4C728.0 374.8 730.4 368.4 733.0 362.0C735.3 356.3 738.6 351.0 740.6 345.3C743.2 338.1 744.7 330.4 746.9 323.0C748.8 316.6 750.2 309.7 753.1 303.9C754.1 301.9 755.5 299.7 757.2 298.3C758.2 297.5 759.6 296.3 760.8 296.3C762.0 296.3 763.4 297.5 764.5 298.3C766.4 299.7 768.4 301.8 769.4 303.9C772.0 309.4 772.7 316.7 774.5 323.0C776.7 330.7 779.7 338.2 781.4 345.9C783.1 353.5 784.0 361.3 785.4 368.9C786.8 376.6 788.9 384.1 790.0 391.8C792.1 407.0 793.1 422.5 794.5 437.8C795.7 451.6 796.3 465.4 798.0 479.1C798.7 484.4 800.3 489.7 801.0 495.0C803.4 513.2 804.3 531.7 806.0 550.0C807.7 568.3 809.2 586.7 811.0 605.0C812.5 620.0 814.2 635.0 816.0 650.0C817.2 660.0 818.9 670.0 820.0 680.0C821.6 695.0 822.8 710.0 824.0 725.0C825.8 746.7 827.2 768.3 829.0 790.0C830.9 813.3 832.8 836.7 835.0 860.0C837.1 881.7 839.4 903.4 842.0 925.0C843.5 937.5 845.4 949.9 847.0 962.4C848.5 974.7 849.4 987.0 851.3 999.2C852.4 1006.2 854.3 1013.1 855.8 1020.0C857.7 1028.9 859.1 1037.9 861.2 1046.8C863.3 1055.8 865.6 1064.9 868.5 1073.6C869.9 1077.8 871.6 1082.0 873.5 1086.0C874.5 1088.2 875.8 1092.3 877.0 1092.3C878.2 1092.3 879.3 1088.1 880.5 1086.0C882.9 1081.8 885.9 1077.9 887.9 1073.6C891.7 1065.1 893.8 1055.7 897.0 1046.8C900.3 1037.8 904.1 1029.0 907.4 1020.0C909.0 1015.7 910.6 1011.4 912.0 1007.0C915.5 996.2 918.4 985.3 921.6 974.4C923.2 968.9 925.0 963.5 926.4 958.0C927.4 953.9 928.2 949.8 929.2 945.7C931.3 937.1 933.8 928.5 936.3 920.0C938.4 913.0 940.7 906.0 943.0 899.1C945.1 892.7 947.5 886.4 949.7 880.0C951.6 874.6 953.5 869.1 955.5 863.7C957.6 857.9 959.2 851.6 962.2 846.5C963.8 843.7 966.3 840.6 968.9 838.9C971.5 837.2 975.6 836.7 978.4 835.0C981.3 833.2 983.8 830.1 986.1 827.4C988.2 825.0 990.0 822.3 991.8 819.7C994.4 816.0 996.2 810.2 999.5 808.3C1001.9 806.9 1005.8 805.9 1009.0 805.4C1012.4 804.9 1016.6 805.0 1019.5 804.4C1023.3 803.7 1025.8 798.0 1029.1 794.9C1032.2 792.0 1035.2 788.6 1038.7 786.3C1041.6 784.4 1045.5 783.5 1048.2 781.5C1052.6 778.4 1055.6 772.8 1059.6 768.9C1064.1 764.5 1068.7 759.9 1073.9 756.5C1078.3 753.6 1083.8 751.8 1088.3 748.9C1091.7 746.7 1094.5 743.5 1097.8 741.2C1100.8 739.1 1104.1 737.3 1107.4 735.5C1110.5 733.8 1113.6 731.7 1116.9 730.7C1120.0 729.8 1123.3 729.1 1126.5 728.8C1128.7 728.6 1131.2 728.6 1133.2 728.3C1136.1 727.9 1138.1 723.6 1140.9 722.1C1145.2 719.8 1150.4 718.3 1155.2 716.8C1159.9 715.3 1164.8 714.3 1169.5 713.0C1174.3 711.6 1179.1 710.1 1183.9 708.7C1187.1 707.7 1190.2 706.4 1193.5 705.8C1198.2 704.9 1203.1 704.7 1207.8 703.9C1212.6 703.1 1217.5 702.0 1222.1 700.6C1224.8 699.8 1227.9 698.7 1230.0 697.2C1231.7 696.0 1232.7 693.2 1234.3 691.8C1238.2 688.5 1244.0 686.9 1248.7 684.2C1253.5 681.5 1258.3 678.6 1263.0 675.6C1267.9 672.5 1272.4 668.8 1277.4 666.0C1283.5 662.5 1290.0 659.4 1296.5 656.6C1302.7 654.0 1309.1 651.5 1315.6 649.5C1321.9 647.5 1328.3 645.8 1334.8 644.4C1341.1 643.0 1347.5 641.7 1353.9 640.9C1360.2 640.1 1366.6 639.6 1373.0 639.2C1379.4 638.8 1385.7 638.6 1392.1 638.1C1400.1 637.5 1408.0 635.5 1416.0 635.5C1425.0 635.5 1434.2 635.5 1443.0 635.5C1448.3 635.5 1454.0 637.6 1458.6 639.5C1464.3 641.8 1469.3 647.6 1473.9 652.2C1480.9 659.2 1486.4 668.0 1493.0 675.7C1499.2 683.0 1505.3 690.5 1512.2 697.1C1517.0 701.7 1521.8 707.5 1527.5 710.0C1532.0 712.0 1537.7 714.2 1542.8 714.2C1547.9 714.2 1553.7 712.0 1558.1 710.0C1564.0 707.3 1568.6 700.3 1573.4 695.0C1578.9 688.9 1583.4 682.0 1588.7 675.7C1593.6 669.9 1598.3 663.3 1604.0 658.6C1608.7 654.7 1614.3 650.4 1620.0 648.5C1625.9 646.5 1632.7 644.3 1639.1 644.3C1645.4 644.3 1651.9 644.7 1658.3 645.2C1664.7 645.7 1671.0 647.4 1677.4 648.1C1684.9 648.9 1692.5 649.8 1700.0 650.0C1711.6 650.3 1723.2 650.3 1734.8 650.5C1744.4 650.7 1753.9 651.0 1763.5 651.0C1775.7 651.0 1787.8 649.5 1800.0 649.5C1806.7 649.5 1813.4 650.3 1820.0 651.0C1826.7 651.7 1833.4 653.4 1840.0 654.8C1846.4 656.2 1852.8 657.8 1859.1 659.6C1865.6 661.5 1871.9 663.9 1878.3 666.3C1885.3 668.9 1892.2 671.6 1899.1 674.5C1905.6 677.2 1911.7 680.8 1918.3 683.0C1924.5 685.1 1931.0 686.6 1937.4 688.2C1943.7 689.7 1950.1 691.8 1956.5 692.4C1961.5 692.9 1966.8 693.4 1971.8 693.4C1978.3 693.4 1984.7 690.9 1991.0 689.2C1998.8 687.1 2006.2 683.3 2013.9 680.9C2020.2 678.9 2026.6 676.2 2033.1 675.6C2039.4 675.0 2045.8 674.9 2052.2 674.5C2058.6 674.1 2064.9 673.2 2071.3 673.0C2077.7 672.8 2084.0 672.8 2090.4 672.6C2096.2 672.4 2102.3 672.4 2107.7 672.0C2111.7 671.7 2115.4 668.4 2119.1 666.3C2124.3 663.4 2129.2 659.8 2134.4 656.7C2138.8 654.1 2143.3 651.5 2147.8 649.0C2152.5 646.4 2157.2 643.9 2162.0 641.5"/>
<path stroke="#9000ff" d="M452.9 677.0C461.4 675.2 469.9 673.6 478.5 672.4C488.4 671.0 498.4 670.3 508.2 668.8C517.5 667.4 526.9 665.4 536.0 663.0C541.4 661.6 546.9 659.6 552.1 657.5C557.3 655.4 562.5 652.8 567.4 650.1C569.8 648.8 572.2 647.2 574.5 645.7C577.8 643.5 581.1 641.1 584.2 638.7C587.7 636.0 591.1 633.1 594.4 630.1C598.8 626.0 603.1 621.6 607.1 617.1C611.4 612.2 615.6 607.1 619.5 601.9C623.1 597.2 626.5 592.3 629.7 587.4C633.0 582.4 636.1 577.2 639.1 572.0C642.0 567.0 644.7 562.0 647.3 556.9C649.8 552.1 652.2 547.1 654.5 542.2C656.9 537.1 659.3 531.9 661.6 526.7C663.8 521.6 666.0 516.5 668.1 511.3C670.2 506.2 672.1 501.1 674.1 496.0C676.0 490.9 678.0 485.8 679.8 480.7C683.4 470.7 686.7 460.5 689.9 450.4C691.9 444.2 693.8 437.9 695.6 431.6C696.8 427.6 697.9 423.7 699.0 419.7C701.6 410.5 704.1 401.2 706.5 391.9C710.4 376.8 713.9 361.5 717.5 346.3C720.0 335.4 722.5 324.6 724.9 313.7C726.3 307.4 727.7 301.0 729.1 294.7C730.5 288.3 732.0 281.8 733.4 275.4C734.9 269.0 736.3 262.5 737.8 256.1C739.3 249.6 740.7 243.1 742.3 236.6C743.9 230.3 745.6 224.0 747.4 217.8C749.2 211.4 750.6 204.8 753.1 198.7C754.4 195.4 756.0 191.4 758.3 189.3C759.6 188.1 762.1 186.5 763.9 186.5C765.6 186.5 767.7 188.1 768.8 189.3C770.7 191.4 771.6 195.5 772.8 198.7C775.1 204.9 777.2 211.4 778.9 217.8C780.6 224.1 781.9 230.6 783.2 237.0C784.5 243.3 785.6 249.7 786.6 256.1C787.6 262.5 788.6 268.8 789.5 275.2C790.4 281.6 791.1 288.0 791.8 294.4C792.5 300.8 793.2 307.1 793.8 313.5C794.8 324.3 795.4 335.1 796.3 345.9C797.6 361.2 799.2 376.5 800.7 391.8C802.2 407.1 803.4 422.5 805.1 437.8C806.3 448.6 808.5 459.2 809.4 470.0C810.3 480.2 810.6 490.4 811.3 500.6C812.0 510.8 812.9 521.0 813.6 531.2C814.3 541.4 815.0 551.6 815.5 561.8C815.9 569.5 816.0 577.3 816.5 585.0C817.0 593.5 818.3 602.1 819.0 610.6C819.8 620.8 820.1 631.0 820.9 641.2C821.7 651.4 823.2 661.6 824.0 671.8C824.6 679.0 825.2 686.1 825.5 693.3C826.0 705.5 826.1 717.8 826.5 730.0C827.2 750.0 828.8 770.0 830.0 790.0C831.2 810.0 832.5 830.0 834.0 850.0C835.5 870.0 837.6 890.0 839.3 910.0C841.0 929.6 842.3 949.1 844.1 968.7C846.1 991.1 848.3 1013.4 850.8 1035.7C852.2 1048.3 854.1 1061.0 855.5 1073.6C857.0 1086.5 858.1 1099.3 859.5 1112.2C860.9 1124.8 862.4 1137.4 864.0 1150.0C865.3 1160.2 866.4 1170.6 868.3 1180.7C869.6 1187.5 871.8 1194.1 873.6 1200.8C874.3 1203.4 874.9 1206.0 875.8 1208.5C876.3 1210.0 876.8 1212.8 877.6 1212.8C878.3 1212.8 879.6 1211.0 880.5 1210.0C883.3 1207.1 886.4 1204.2 888.3 1200.8C891.6 1194.8 893.5 1187.5 895.7 1180.7C898.6 1171.9 901.1 1162.9 903.7 1153.9C906.3 1145.0 908.9 1136.1 911.1 1127.1C913.3 1118.3 915.2 1109.3 917.1 1100.4C919.0 1091.5 920.8 1082.6 922.5 1073.6C924.2 1064.7 925.8 1055.8 927.2 1046.8C928.6 1037.9 929.8 1028.9 931.2 1020.0C932.0 1015.0 932.5 1009.9 933.5 1005.0C935.8 993.7 940.4 982.8 944.5 972.0C946.3 967.3 948.6 962.7 950.3 958.0C953.9 948.1 955.5 937.1 959.8 927.8C961.1 925.1 963.3 922.6 965.0 920.0C967.3 916.6 969.0 912.5 971.7 909.6C973.8 907.4 977.6 906.2 979.4 903.9C982.4 900.2 983.7 894.2 986.1 889.5C988.5 884.7 991.0 879.8 993.7 875.2C996.6 870.3 999.2 863.5 1003.3 860.9C1006.2 859.1 1011.2 858.7 1014.8 857.0C1017.8 855.6 1021.6 853.6 1023.4 851.3C1026.1 847.8 1026.7 841.3 1029.1 836.9C1030.8 833.8 1033.1 830.1 1035.8 828.3C1039.1 826.1 1044.5 825.6 1048.2 823.6C1052.4 821.3 1056.4 817.5 1059.6 813.9C1063.3 809.7 1065.5 803.9 1069.1 799.5C1071.9 796.1 1075.3 792.8 1078.7 790.0C1081.7 787.5 1085.2 785.6 1088.3 783.3C1091.6 780.9 1094.8 778.3 1097.8 775.6C1100.1 773.5 1102.5 771.3 1104.5 768.9C1107.4 765.4 1109.1 760.6 1112.2 757.5C1114.0 755.6 1116.7 754.3 1118.9 752.7C1121.5 750.8 1124.1 749.0 1126.5 746.9C1129.9 744.0 1132.8 740.5 1136.1 737.4C1138.6 735.1 1141.0 732.7 1143.7 730.7C1146.7 728.6 1150.0 726.6 1153.3 725.0C1157.0 723.2 1161.0 721.9 1164.8 720.2C1168.0 718.7 1171.0 716.6 1174.3 715.4C1177.4 714.2 1180.6 713.0 1183.9 712.5C1187.0 712.0 1190.5 712.1 1193.5 711.6C1195.9 711.2 1198.1 709.2 1200.2 707.7C1203.0 705.7 1205.3 703.0 1207.8 700.6C1211.0 697.6 1214.0 694.2 1217.4 691.5C1221.3 688.3 1225.8 685.8 1230.0 682.9C1236.3 678.6 1242.3 673.8 1248.7 669.8C1254.9 666.0 1261.5 662.9 1267.8 659.3C1272.6 656.5 1277.2 653.1 1282.2 650.7C1286.8 648.5 1291.6 646.4 1296.5 645.0C1302.7 643.2 1309.2 641.9 1315.6 640.6C1322.0 639.3 1328.4 638.5 1334.8 637.3C1341.2 636.1 1347.5 633.5 1353.9 633.0C1360.2 632.5 1366.6 632.0 1373.0 632.0C1382.0 632.0 1391.0 632.0 1400.0 632.0C1405.5 632.0 1411.0 629.9 1416.5 629.9C1422.9 629.9 1429.4 630.4 1435.7 630.9C1442.2 631.5 1448.8 633.5 1454.8 635.7C1461.6 638.1 1468.0 642.8 1473.9 647.1C1480.7 652.1 1487.1 658.2 1493.0 664.4C1499.1 670.8 1504.1 678.3 1510.0 685.0C1515.5 691.2 1520.7 697.9 1527.0 703.0C1531.8 706.8 1537.2 713.1 1542.8 713.1C1547.6 713.1 1553.6 710.3 1558.0 708.0C1563.7 705.1 1568.3 698.9 1573.0 694.0C1578.3 688.4 1582.8 681.8 1588.0 676.0C1593.2 670.2 1598.4 664.3 1604.0 659.0C1608.1 655.1 1612.2 650.4 1617.0 648.0C1620.9 646.0 1625.5 643.8 1630.0 643.5C1634.9 643.2 1640.0 643.0 1645.0 643.0C1649.5 643.0 1653.9 644.5 1658.3 645.2C1664.7 646.2 1671.0 647.4 1677.4 648.1C1684.9 648.9 1692.5 649.8 1700.0 650.0C1711.6 650.3 1723.2 650.3 1734.8 650.5C1744.4 650.7 1753.9 651.0 1763.5 651.0C1775.7 651.0 1787.8 649.5 1800.0 649.5C1806.7 649.5 1813.4 650.3 1820.0 651.0C1826.7 651.7 1833.4 653.4 1840.0 654.8C1846.4 656.2 1852.8 657.8 1859.1 659.6C1865.6 661.5 1872.0 663.9 1878.3 666.3C1885.3 669.0 1892.2 672.0 1899.1 675.0C1905.6 677.9 1911.7 681.6 1918.3 684.0C1924.5 686.3 1931.0 688.0 1937.4 689.7C1943.7 691.4 1950.1 693.5 1956.5 694.2C1961.5 694.7 1966.8 695.3 1971.8 695.3C1978.3 695.3 1984.7 692.6 1991.0 690.8C1998.8 688.5 2006.1 684.4 2013.9 681.8C2020.2 679.7 2026.6 676.7 2033.1 676.1C2039.3 675.5 2045.8 675.5 2052.2 675.0C2058.6 674.5 2064.9 673.2 2071.3 673.0C2077.7 672.8 2084.0 672.8 2090.4 672.6C2096.2 672.4 2102.3 672.4 2107.7 672.0C2111.7 671.7 2115.4 668.4 2119.1 666.3C2124.3 663.4 2129.2 659.8 2134.4 656.7C2138.8 654.1 2143.3 651.5 2147.8 649.0C2152.5 646.4 2157.2 643.9 2162.0 641.5"/>
<path stroke="#940082" d="M452.9 678.0C462.1 677.7 471.1 676.8 480.2 675.8C486.6 675.1 492.9 673.6 499.3 672.7C505.2 671.9 511.1 671.2 517.0 670.4C524.9 669.3 532.8 668.2 540.6 666.7C547.3 665.4 560.4 661.8 560.4 661.8C560.4 661.8 560.4 661.8 560.4 661.8C560.4 661.8 570.0 658.5 574.6 656.5C578.6 654.8 582.6 652.7 586.4 650.5C590.7 648.0 594.9 645.2 598.8 642.2C603.6 638.6 608.2 634.5 612.6 630.3C617.0 626.0 621.3 621.5 625.3 616.8C629.5 611.9 633.5 606.8 637.3 601.7C640.9 596.9 644.3 591.9 647.7 586.9C651.1 581.9 654.4 576.7 657.6 571.6C660.5 567.0 663.3 562.4 666.0 557.7C668.5 553.4 671.0 549.0 673.4 544.6C676.5 538.8 679.6 533.0 682.5 527.1C685.1 521.9 687.5 516.7 689.9 511.5C692.3 506.2 694.6 500.9 696.8 495.5C698.8 490.5 700.8 485.5 702.7 480.5C706.4 470.6 709.8 460.7 713.1 450.7C716.5 440.6 719.6 430.5 722.9 420.4C724.6 415.3 726.2 410.3 727.9 405.2C729.4 400.7 730.9 396.1 732.5 391.6C735.2 384.0 737.9 376.4 740.8 368.9C743.7 361.2 746.0 352.8 750.0 345.9C751.4 343.4 753.3 340.7 755.5 339.0C756.8 338.0 758.6 336.6 760.1 336.6C761.6 336.6 763.2 338.0 764.5 339.0C766.8 340.7 769.1 343.4 770.4 345.9C773.8 352.6 775.3 361.2 777.3 368.9C779.3 376.5 781.2 384.1 782.7 391.8C784.2 399.4 785.5 407.1 786.7 414.8C787.9 422.5 789.0 430.1 790.2 437.8C791.3 444.5 792.4 451.3 793.5 458.0C794.5 464.0 795.3 470.0 796.3 476.0C797.1 480.7 798.1 485.3 798.8 490.0C799.3 493.5 799.8 497.1 800.2 500.6C801.4 510.8 802.0 521.0 803.2 531.2C803.8 536.3 804.6 541.4 805.2 546.5C806.4 556.0 807.5 565.5 808.5 575.0C809.8 586.7 810.8 598.3 812.0 610.0C813.2 621.7 814.3 633.3 815.5 645.0C816.7 656.7 817.7 668.4 819.0 680.0C820.1 690.0 821.6 700.0 822.8 710.0C824.0 720.0 825.2 730.0 826.3 740.0C827.4 750.5 828.6 761.1 829.5 771.6C830.7 785.2 831.2 798.8 832.5 812.4C833.4 821.6 834.8 830.8 836.0 840.0C837.7 853.6 839.8 867.2 841.3 880.8C842.8 894.4 843.9 908.0 845.4 921.6C846.9 935.2 848.4 948.9 850.5 962.4C852.4 974.7 855.1 987.1 858.2 999.2C860.0 1006.2 862.0 1013.2 864.5 1020.0C866.2 1024.6 868.6 1028.9 870.5 1033.4C872.3 1037.6 873.6 1042.0 875.5 1046.0C876.5 1048.1 877.8 1052.1 879.0 1052.1C880.2 1052.1 881.2 1048.0 882.5 1046.0C885.3 1041.6 888.8 1037.7 891.7 1033.4C894.6 1029.0 897.9 1024.7 900.0 1020.0C902.6 1014.1 904.2 1007.5 906.3 1001.2C908.8 993.6 911.4 985.9 913.9 978.3C916.1 971.5 918.7 964.8 920.6 958.0C922.3 952.1 923.7 946.0 925.0 940.0C926.4 933.4 927.2 926.6 928.7 920.0C930.7 911.3 933.4 902.7 936.3 894.3C938.3 888.5 940.8 882.9 943.0 877.1C945.6 870.1 947.9 863.0 950.7 856.1C953.3 849.6 956.1 843.1 959.3 836.9C961.5 832.6 964.0 828.3 966.9 824.5C969.7 820.7 973.3 817.5 976.5 814.0C979.7 810.5 982.5 806.4 986.1 803.5C988.9 801.2 992.3 799.3 995.6 797.7C998.7 796.2 1001.9 794.8 1005.2 793.9C1008.3 793.1 1011.8 792.9 1014.8 792.0C1018.2 791.0 1021.0 787.9 1024.3 786.3C1027.4 784.8 1030.9 784.0 1033.9 782.4C1037.3 780.6 1040.2 777.8 1043.5 775.7C1045.6 774.3 1047.9 773.2 1050.0 771.8C1053.4 769.5 1056.4 766.7 1059.6 764.2C1064.4 760.4 1069.0 756.3 1073.9 752.7C1078.5 749.3 1083.5 746.3 1088.3 743.1C1093.1 739.9 1097.8 736.7 1102.6 733.6C1107.3 730.6 1111.8 726.6 1116.9 725.0C1119.9 724.1 1123.3 723.0 1126.5 723.0C1129.7 723.0 1132.9 724.6 1136.1 725.0C1139.2 725.4 1142.5 725.9 1145.6 725.9C1148.9 725.9 1152.1 723.6 1155.2 722.1C1158.5 720.5 1161.7 718.3 1164.8 716.3C1168.0 714.2 1171.0 711.4 1174.3 709.6C1177.3 707.9 1180.6 706.0 1183.9 705.3C1187.0 704.6 1190.3 704.4 1193.5 703.9C1196.7 703.4 1199.8 702.9 1203.0 702.5C1207.8 701.8 1212.8 701.6 1217.4 700.6C1221.8 699.7 1226.4 697.7 1230.0 695.3C1231.6 694.2 1232.7 692.1 1234.3 690.9C1238.5 687.7 1243.9 685.8 1248.7 683.2C1253.5 680.7 1258.3 678.3 1263.0 675.6C1267.9 672.8 1272.4 669.5 1277.4 666.9C1283.5 663.7 1290.0 661.0 1296.5 658.5C1302.8 656.1 1309.2 653.9 1315.6 652.1C1321.9 650.3 1328.3 648.6 1334.8 647.5C1341.1 646.4 1347.5 645.0 1353.9 645.0C1360.2 645.0 1366.6 645.0 1373.0 645.0C1382.0 645.0 1391.2 646.4 1400.0 646.4C1405.4 646.4 1410.6 642.4 1416.0 642.0C1423.8 641.4 1432.1 641.0 1440.0 641.0C1446.0 641.0 1452.6 642.4 1458.0 644.0C1463.5 645.6 1468.4 651.0 1473.0 655.0C1478.8 660.1 1484.5 665.9 1489.2 672.0C1494.2 678.5 1497.8 686.3 1502.6 693.0C1508.4 701.0 1514.1 711.4 1521.7 716.0C1527.4 719.5 1535.7 723.7 1542.8 723.7C1548.5 723.7 1555.1 720.6 1560.0 717.9C1565.1 715.1 1569.4 709.3 1573.4 704.5C1578.8 698.2 1583.1 690.8 1588.0 684.0C1593.3 676.6 1598.0 668.6 1604.0 662.0C1607.9 657.7 1612.1 652.6 1617.0 650.0C1620.8 648.0 1625.5 645.8 1630.0 645.5C1634.9 645.2 1640.0 645.0 1645.0 645.0C1650.0 645.0 1655.0 645.9 1660.0 646.5C1666.7 647.3 1673.3 648.6 1680.0 649.5C1686.7 650.4 1693.3 651.5 1700.0 652.0C1711.6 652.9 1723.3 653.7 1735.0 654.0C1745.0 654.3 1755.0 654.5 1765.0 654.5C1776.7 654.5 1788.3 652.0 1800.0 652.0C1806.7 652.0 1813.4 652.8 1820.0 653.5C1826.7 654.2 1833.4 655.9 1840.0 657.5C1846.4 659.0 1852.7 661.0 1859.0 663.0C1865.4 665.1 1871.7 667.6 1878.0 670.0C1885.0 672.7 1892.1 675.5 1899.0 678.5C1905.5 681.3 1911.8 684.5 1918.3 687.3C1924.6 690.0 1930.9 693.0 1937.4 695.0C1943.1 696.8 1949.1 698.6 1955.0 699.5C1958.7 700.0 1962.4 700.7 1966.1 700.7C1970.8 700.7 1975.4 699.1 1980.0 698.0C1985.0 696.8 1989.9 694.8 1994.8 693.0C2001.2 690.7 2007.5 687.7 2013.9 685.4C2020.2 683.1 2026.5 680.1 2033.0 679.0C2039.2 678.0 2045.6 677.1 2052.0 677.0C2058.4 676.9 2064.9 676.8 2071.3 676.8C2080.9 676.8 2090.6 676.8 2100.0 676.8C2103.4 676.8 2106.9 675.6 2110.0 674.5C2113.2 673.4 2116.1 670.9 2119.0 669.0C2124.1 665.7 2128.9 661.9 2134.0 658.5C2138.6 655.4 2143.3 652.4 2148.0 649.5C2152.6 646.6 2157.3 643.8 2162.0 641.0"/>
<path stroke="#960000" d="M452.9 676.2C457.0 675.1 461.1 674.1 465.2 673.5C474.3 672.3 483.6 672.1 492.8 671.0C501.5 670.0 510.1 668.6 518.7 667.0C524.4 665.9 530.2 664.6 535.8 663.0C541.2 661.5 546.5 659.7 551.7 657.7C557.1 655.6 562.4 653.1 567.5 650.5C570.1 649.2 572.5 647.7 575.0 646.2C578.5 644.1 581.9 641.8 585.2 639.4C588.8 636.8 592.4 634.0 595.7 631.0C600.5 626.8 605.0 622.3 609.3 617.6C613.8 612.6 618.1 607.4 622.2 602.0C625.8 597.3 629.2 592.4 632.4 587.4C635.7 582.3 638.9 577.1 641.9 571.8C644.8 566.8 647.6 561.7 650.2 556.5C652.7 551.7 655.0 546.8 657.3 541.9C659.7 536.8 661.9 531.7 664.1 526.6C666.3 521.5 668.4 516.4 670.4 511.3C672.4 506.3 674.3 501.2 676.2 496.1C678.0 491.1 679.8 486.0 681.5 480.9C684.8 470.9 687.9 460.7 690.9 450.6C692.7 444.4 694.5 438.1 696.2 431.8C697.3 427.8 698.4 423.8 699.4 419.8C701.8 410.5 704.1 401.2 706.4 391.9C710.1 376.7 713.7 361.4 717.4 346.1C719.5 337.2 721.6 328.3 723.8 319.4C725.0 314.3 726.3 309.3 727.6 304.2C729.2 297.8 730.9 291.4 732.6 285.0C734.4 278.4 736.0 271.7 738.1 265.2C740.1 258.9 742.7 252.7 745.0 246.5C747.4 240.1 749.2 233.4 752.2 227.4C753.2 225.3 754.4 222.7 756.0 221.5C757.0 220.8 758.5 219.8 759.8 219.8C761.0 219.8 762.5 220.8 763.5 221.5C765.2 222.8 766.5 225.3 767.4 227.4C770.1 233.3 771.5 240.1 773.2 246.5C774.9 252.8 776.3 259.3 777.8 265.7C779.3 272.1 780.8 278.4 782.1 284.8C783.3 291.1 784.4 297.5 785.4 303.9C786.2 309.0 787.1 314.1 787.8 319.2C788.9 328.1 789.7 337.0 790.6 345.9C792.1 361.2 793.4 376.5 794.6 391.8C795.8 407.1 796.5 422.5 797.7 437.8C798.7 450.2 800.5 462.6 801.3 475.0C801.9 483.5 802.1 492.1 802.6 500.6C803.3 510.8 804.4 521.0 805.3 531.2C806.2 541.4 807.2 551.6 808.2 561.8C809.0 569.5 809.9 577.3 810.6 585.0C811.4 593.5 812.6 602.1 812.9 610.6C813.3 620.8 813.2 631.0 813.6 641.2C814.0 651.4 815.2 661.6 815.9 671.8C816.6 681.0 817.1 690.2 817.8 699.4C818.6 709.9 819.8 720.3 820.6 730.8C821.7 744.4 822.7 758.0 823.6 771.6C824.5 785.2 825.1 798.8 826.2 812.4C827.1 823.3 828.6 834.1 829.5 845.0C830.5 856.9 831.3 868.9 832.1 880.8C833.1 894.4 833.9 908.0 834.9 921.6C835.9 935.2 836.9 948.8 838.0 962.4C839.0 974.7 839.8 987.0 841.3 999.2C842.2 1006.2 844.2 1013.0 845.1 1020.0C847.3 1037.7 847.9 1055.8 849.8 1073.6C851.7 1091.5 854.0 1109.4 856.9 1127.1C858.4 1136.1 860.1 1145.1 862.2 1153.9C864.4 1162.9 866.4 1172.6 870.3 1180.7C871.3 1182.8 873.0 1184.6 874.5 1186.5C875.3 1187.5 876.2 1189.4 877.0 1189.4C877.8 1189.4 878.6 1187.4 879.5 1186.5C881.3 1184.5 883.8 1182.8 885.0 1180.7C889.1 1173.2 890.6 1162.9 893.0 1153.9C895.4 1145.0 897.5 1136.0 899.7 1127.1C901.9 1118.2 904.0 1109.3 906.0 1100.4C908.0 1091.5 910.0 1082.6 911.8 1073.6C913.6 1064.7 915.3 1055.8 916.7 1046.8C918.1 1037.9 919.0 1028.9 920.5 1020.0C922.8 1006.0 926.6 992.2 929.2 978.3C931.3 967.2 933.0 956.1 935.0 945.0C936.2 938.0 936.7 930.5 938.8 924.0C939.2 922.6 940.4 921.4 941.1 920.0C943.8 914.3 945.7 908.0 947.8 902.0C949.8 896.3 951.8 890.6 953.6 884.8C955.6 878.4 957.0 871.8 959.3 865.6C960.9 861.4 962.4 856.1 965.0 853.2C967.1 850.8 971.6 849.6 974.6 847.5C978.0 845.2 981.4 842.7 984.2 839.8C987.0 837.0 989.6 833.7 991.8 830.3C994.0 827.0 995.7 823.3 997.6 819.7C999.6 815.9 1000.8 811.1 1003.3 808.3C1005.5 805.9 1009.8 804.6 1012.9 802.5C1015.5 800.7 1018.4 799.0 1020.5 796.8C1023.1 794.1 1024.8 790.3 1027.2 787.2C1029.3 784.6 1031.3 781.3 1033.9 779.6C1035.8 778.4 1038.4 776.7 1040.6 776.7C1043.1 776.7 1045.6 780.0 1048.2 780.0C1051.8 780.0 1056.7 779.3 1059.6 778.5C1063.6 777.4 1065.7 770.0 1069.1 766.1C1070.9 764.1 1072.7 760.3 1074.9 760.3C1077.3 760.3 1080.8 761.7 1083.5 762.7C1087.5 764.2 1091.1 768.9 1095.0 768.9C1097.8 768.9 1100.7 766.3 1103.6 765.1C1107.4 763.5 1111.1 761.6 1115.0 760.3C1118.1 759.2 1122.0 758.8 1124.6 757.5C1128.5 755.5 1130.8 749.7 1134.2 746.0C1137.2 742.7 1140.4 739.5 1143.7 736.4C1146.8 733.4 1149.8 730.1 1153.3 727.8C1156.8 725.5 1160.9 724.0 1164.8 722.1C1168.9 720.1 1172.9 716.3 1177.2 716.3C1180.0 716.3 1182.9 718.3 1185.8 718.3C1189.3 718.3 1193.3 717.6 1196.3 716.8C1200.0 715.8 1202.5 710.4 1205.9 707.7C1208.0 706.0 1210.2 704.1 1212.6 703.0C1215.5 701.7 1219.0 701.2 1222.1 700.1C1224.8 699.1 1227.5 697.8 1230.0 696.5C1233.1 694.9 1236.0 692.6 1239.1 690.9C1243.7 688.4 1249.0 686.8 1253.5 684.2C1257.9 681.6 1261.7 677.8 1265.9 674.6C1269.7 671.7 1273.4 668.5 1277.4 666.0C1283.4 662.3 1290.0 659.2 1296.5 656.4C1302.7 653.7 1309.1 651.3 1315.6 649.3C1321.9 647.3 1328.3 645.6 1334.8 644.2C1341.1 642.9 1347.5 641.5 1353.9 640.8C1360.2 640.1 1366.6 639.8 1373.0 639.4C1379.4 639.0 1385.8 638.9 1392.1 638.4C1400.1 637.8 1408.0 635.5 1416.0 635.5C1425.0 635.5 1434.2 635.5 1443.0 635.5C1448.3 635.5 1453.9 637.6 1458.6 639.5C1464.2 641.7 1469.2 646.8 1473.9 651.0C1480.9 657.2 1486.5 665.2 1493.0 672.0C1499.2 678.5 1505.4 685.3 1512.2 691.1C1517.0 695.2 1521.9 700.4 1527.5 702.6C1532.1 704.4 1537.7 706.4 1542.8 706.4C1547.9 706.4 1553.6 704.4 1558.1 702.6C1563.9 700.3 1568.6 693.9 1573.4 689.2C1578.8 683.8 1583.4 677.6 1588.7 672.0C1593.6 666.8 1598.3 660.7 1604.0 656.7C1608.7 653.4 1614.4 650.3 1620.0 648.5C1626.1 646.6 1632.7 644.3 1639.1 644.3C1645.4 644.3 1651.9 644.7 1658.3 645.2C1664.7 645.7 1671.0 647.4 1677.4 648.1C1684.9 648.9 1692.5 649.8 1700.0 650.0C1711.6 650.3 1723.2 650.3 1734.8 650.5C1744.4 650.7 1753.9 651.0 1763.5 651.0C1775.7 651.0 1787.8 649.5 1800.0 649.5C1806.7 649.5 1813.4 650.3 1820.0 651.0C1826.7 651.7 1833.4 653.4 1840.0 654.8C1846.4 656.2 1852.8 657.8 1859.1 659.6C1865.6 661.5 1871.9 664.0 1878.3 666.3C1885.3 668.8 1892.2 671.3 1899.1 673.9C1905.5 676.4 1911.8 679.6 1918.3 681.6C1924.5 683.5 1931.0 685.0 1937.4 686.4C1943.7 687.8 1950.1 689.6 1956.5 690.2C1961.6 690.7 1966.7 691.1 1971.8 691.1C1978.3 691.1 1984.7 688.9 1991.0 687.3C1998.8 685.4 2006.2 681.9 2013.9 679.7C2020.2 677.9 2026.6 675.5 2033.1 674.9C2039.4 674.4 2045.8 674.2 2052.2 673.9C2058.6 673.6 2064.9 673.2 2071.3 673.0C2077.7 672.8 2084.0 672.8 2090.4 672.6C2096.2 672.4 2102.3 672.4 2107.7 672.0C2111.7 671.7 2115.4 668.4 2119.1 666.3C2124.3 663.4 2129.2 659.8 2134.4 656.7C2138.8 654.1 2143.3 651.5 2147.8 649.0C2152.5 646.4 2157.2 643.9 2162.0 641.5"/>
<path stroke="#808000" d="M452.5 678.5C459.6 677.5 466.8 676.5 474.0 676.2C482.9 675.8 491.8 675.9 500.7 675.5C509.3 675.2 518.0 674.3 526.6 673.3C532.4 672.7 538.1 671.7 543.8 670.7C549.3 669.7 554.7 668.4 560.1 667.0C565.7 665.5 571.3 663.7 576.7 661.8C582.1 659.9 587.4 657.6 592.6 655.2C598.8 652.3 604.9 648.9 610.8 645.3C617.8 641.0 624.6 636.3 631.0 631.2C636.9 626.6 642.5 621.5 647.8 616.3C652.5 611.7 657.1 606.7 661.4 601.7C664.4 598.2 667.3 594.5 670.1 590.8C672.9 587.1 675.6 583.4 678.2 579.6C681.8 574.3 685.2 568.9 688.5 563.5C690.7 560.0 692.8 556.4 694.8 552.8C696.5 549.8 698.1 546.8 699.7 543.8C703.1 537.4 706.5 530.9 709.8 524.4C712.8 518.4 715.7 512.4 718.6 506.4C721.4 500.5 724.2 494.7 727.0 488.8C729.5 483.6 731.6 478.0 734.6 473.1C737.4 468.6 741.1 464.5 744.6 460.4C746.9 457.6 749.1 454.6 751.8 452.3C753.1 451.2 754.5 450.1 756.0 449.5C757.2 449.0 758.5 448.3 759.8 448.3C761.1 448.3 762.6 449.0 763.8 449.5C765.3 450.1 766.8 451.2 767.9 452.3C770.8 455.1 773.0 459.3 775.0 463.0C777.0 466.7 778.7 470.7 780.4 474.6C782.2 478.7 784.1 482.9 785.7 487.1C787.3 491.2 788.9 495.4 790.2 499.6C791.6 504.3 792.8 509.1 793.8 513.9C794.8 518.6 795.6 523.4 796.4 528.2C797.4 534.2 798.2 540.1 799.1 546.1C800.0 552.0 800.9 558.0 801.8 563.9C802.6 569.3 803.4 574.7 804.4 580.0C806.2 590.2 808.9 600.3 810.6 610.6C812.3 620.7 813.3 631.0 814.8 641.2C816.3 651.4 817.9 661.6 819.7 671.8C821.1 679.6 822.8 687.3 824.3 695.0C826.6 706.9 828.9 718.8 831.0 730.8C833.3 744.4 835.2 758.0 837.5 771.6C839.8 785.2 841.8 799.0 844.8 812.4C846.9 821.7 849.7 830.9 852.5 840.0C854.6 846.9 857.0 853.7 859.5 860.4C862.0 867.3 864.4 874.2 867.5 880.8C869.0 883.9 870.4 887.4 872.5 890.0C873.7 891.4 875.4 893.8 877.0 893.8C878.5 893.8 880.5 892.4 882.0 891.5C884.2 890.2 886.0 888.2 888.0 886.5C892.0 883.1 896.1 879.8 900.0 876.2C905.0 871.6 910.3 867.1 914.3 861.8C918.0 856.9 920.7 851.0 923.9 845.6C927.1 840.2 929.6 833.9 933.5 829.3C936.8 825.3 941.8 822.3 945.9 818.8C949.7 815.6 953.5 812.4 957.4 809.2C959.9 807.1 962.2 804.0 965.0 803.0C968.4 801.8 972.8 801.7 976.5 800.6C979.8 799.6 982.9 797.4 986.1 795.8C990.8 793.5 995.5 791.0 1000.4 789.1C1005.1 787.3 1010.4 786.4 1014.8 784.3C1018.2 782.7 1021.1 779.8 1024.3 777.7C1027.4 775.7 1030.6 773.7 1033.9 771.9C1039.1 769.1 1045.0 767.2 1050.0 764.2C1056.9 760.1 1062.8 754.1 1069.1 748.9C1074.0 744.8 1078.7 740.6 1083.5 736.4C1088.3 732.3 1092.7 727.7 1097.8 724.0C1103.8 719.7 1110.3 715.7 1116.9 712.5C1123.0 709.5 1129.5 706.7 1136.1 704.9C1142.3 703.2 1148.8 702.0 1155.2 701.0C1161.5 700.0 1167.9 699.3 1174.3 698.6C1180.7 697.9 1187.1 697.1 1193.5 696.7C1199.9 696.3 1206.4 696.3 1212.6 695.8C1218.6 695.3 1224.5 692.3 1230.0 689.8C1233.2 688.3 1236.0 685.9 1239.1 684.2C1245.3 680.9 1251.9 678.5 1258.3 675.6C1264.7 672.7 1271.0 669.8 1277.4 666.9C1283.8 664.0 1290.0 660.9 1296.5 658.3C1302.8 655.8 1309.1 653.5 1315.6 651.6C1321.9 649.8 1328.4 648.2 1334.8 646.9C1341.1 645.6 1347.5 644.2 1353.9 643.5C1360.2 642.8 1366.6 642.5 1373.0 642.1C1382.0 641.5 1391.1 641.4 1400.0 640.6C1405.6 640.1 1410.9 636.6 1416.5 636.6C1425.3 636.6 1434.8 636.6 1443.3 636.6C1448.6 636.6 1454.1 640.5 1458.6 643.3C1464.4 646.9 1469.9 652.9 1473.9 658.6C1478.6 665.3 1481.6 673.9 1485.4 681.6C1489.2 689.2 1493.1 696.9 1496.9 704.5C1500.7 712.2 1504.1 720.1 1508.4 727.5C1511.8 733.4 1515.3 740.0 1519.8 744.7C1523.0 748.0 1527.1 751.8 1531.3 753.3C1533.9 754.2 1537.0 755.2 1539.9 755.2C1543.4 755.2 1547.4 753.7 1550.4 752.4C1554.9 750.4 1558.5 745.0 1561.9 740.9C1566.2 735.6 1569.8 729.6 1573.4 723.7C1577.5 716.9 1581.2 709.7 1584.9 702.6C1588.9 695.0 1592.3 687.2 1596.4 679.7C1600.0 673.2 1603.5 666.5 1607.8 660.5C1610.7 656.5 1613.7 652.0 1617.4 649.0C1620.2 646.7 1623.7 644.9 1627.0 643.3C1630.9 641.4 1634.9 638.7 1639.1 638.5C1646.5 638.2 1654.5 638.0 1662.1 638.0C1670.5 638.0 1678.8 641.2 1687.0 643.3C1693.4 644.9 1699.6 648.0 1706.1 649.0C1715.5 650.5 1725.2 651.4 1734.8 651.9C1744.3 652.4 1753.9 652.9 1763.5 652.9C1769.9 652.9 1776.2 652.3 1782.6 651.9C1789.0 651.5 1795.4 650.0 1801.8 650.0C1808.2 650.0 1814.6 651.6 1820.9 652.9C1827.4 654.2 1833.6 656.7 1840.0 658.6C1846.4 660.5 1852.8 662.2 1859.1 664.4C1865.6 666.6 1872.2 669.0 1878.3 672.0C1885.6 675.6 1892.1 681.1 1899.1 685.4C1905.4 689.3 1911.8 693.2 1918.3 696.9C1924.6 700.5 1930.8 704.6 1937.4 707.4C1943.5 710.0 1950.0 713.0 1956.5 714.1C1960.9 714.8 1965.4 715.6 1969.9 715.6C1975.0 715.6 1980.3 714.3 1985.2 713.1C1991.9 711.5 1998.2 707.7 2004.4 704.5C2011.0 701.1 2017.0 696.6 2023.5 693.0C2029.7 689.6 2035.9 685.1 2042.6 683.5C2048.7 682.1 2055.4 680.6 2061.8 680.6C2068.1 680.6 2074.5 681.6 2080.9 681.6C2089.8 681.6 2099.5 681.3 2107.7 680.6C2111.7 680.3 2115.5 676.4 2119.1 673.9C2124.6 670.1 2129.5 665.2 2134.4 660.5C2139.1 656.0 2143.3 650.9 2147.8 646.2C2152.5 641.3 2157.2 636.4 2162.0 631.5"/>
</g>
<text class="tick" transform="translate(425.5 296.8) scale(0.9200 1)" text-anchor="end" style="font-size:110.2px">0.002</text>
<text class="tick" transform="translate(425.5 714.8) scale(0.9200 1)" text-anchor="end" style="font-size:110.2px">0.000</text>
<text class="tick" transform="translate(427.3 1130.8) scale(0.9180 1)" text-anchor="end" style="font-size:110.2px">−0.002</text>
<text class="tick" transform="translate(453.6 1428.9) scale(0.9370 1)" text-anchor="middle" style="font-size:110.2px">5500</text>
<text class="tick" transform="translate(1306.7 1428.9) scale(0.9370 1)" text-anchor="middle" style="font-size:110.2px">5000</text>
<text class="tick" transform="translate(2160.5 1428.9) scale(0.9370 1)" text-anchor="middle" style="font-size:110.2px">4500</text>
<text class="ax" style="font-size:105.5px;letter-spacing:-2.9px" transform="translate(111.0 1030.5) rotate(-90) scale(0.95 1)">2nd derivative</text>
<text class="ax" transform="scale(0.94 1)" y="1552.2"><tspan x="922.9" style="letter-spacing:-0.39px">Wavenumber </tspan><tspan x="1586.4">(cm</tspan><tspan x="1769.4" dy="-58.6" style="font-size:60px" textLength="46.8" lengthAdjust="spacingAndGlyphs">-1</tspan><tspan x="1823.7" dy="58.6">)</tspan></text>
<g stroke-width="7.0" stroke-linecap="round" fill="none">
<path stroke="#000000" d="M2185.7 398.8 H2285.4"/>
<path stroke="#ff0000" d="M2185.7 453.2 H2285.4"/>
<path stroke="#0000ff" d="M2185.7 507.9 H2285.4"/>
<path stroke="#ff00ff" d="M2185.7 562.8 H2285.4"/>
<path stroke="#00ff00" d="M2185.7 616.9 H2285.4"/>
<path stroke="#0000a0" d="M2185.7 671.5 H2285.4"/>
<path stroke="#9000ff" d="M2185.7 726.6 H2285.4"/>
<path stroke="#940082" d="M2185.7 781.5 H2285.4"/>
<path stroke="#960000" d="M2185.7 835.3 H2285.4"/>
<path stroke="#808000" d="M2185.7 889.6 H2285.4"/>
</g>
<text class="lg" stroke="#000" stroke-width="1.2" transform="translate(2299.5 414.2) scale(1.000 1)">1st</text>
<text class="lg" stroke="#000" stroke-width="1.2" transform="translate(2299.5 470.0) scale(0.930 1)">3rd</text>
<text class="lg" stroke="#000" stroke-width="1.2" transform="translate(2299.5 524.7) scale(0.930 1)">4th</text>
<text class="lg" stroke="#000" stroke-width="1.2" transform="translate(2299.5 579.6) scale(0.930 1)">5th</text>
<text class="lg" stroke="#000" stroke-width="1.2" transform="translate(2299.5 633.7) scale(0.930 1)">6th</text>
<text class="lg" stroke="#000" stroke-width="1.2" transform="translate(2299.5 688.3) scale(0.930 1)">7th</text>
<text class="lg" stroke="#000" stroke-width="1.2" transform="translate(2299.5 743.4) scale(0.930 1)">8th</text>
<text class="lg" stroke="#000" stroke-width="1.2" transform="translate(2299.5 798.3) scale(0.930 1)">9th</text>
<text class="lg" stroke="#000" stroke-width="1.2" transform="translate(2299.5 852.1) scale(0.900 1)">10th</text>
<text class="lg" style="font-size:50.8px" transform="translate(2304.2 906.0) scale(0.886 1)">JBH</text>
<rect x="448" y="104" width="10.5" height="1.2" fill="#fff"/>
</svg></body></html>
